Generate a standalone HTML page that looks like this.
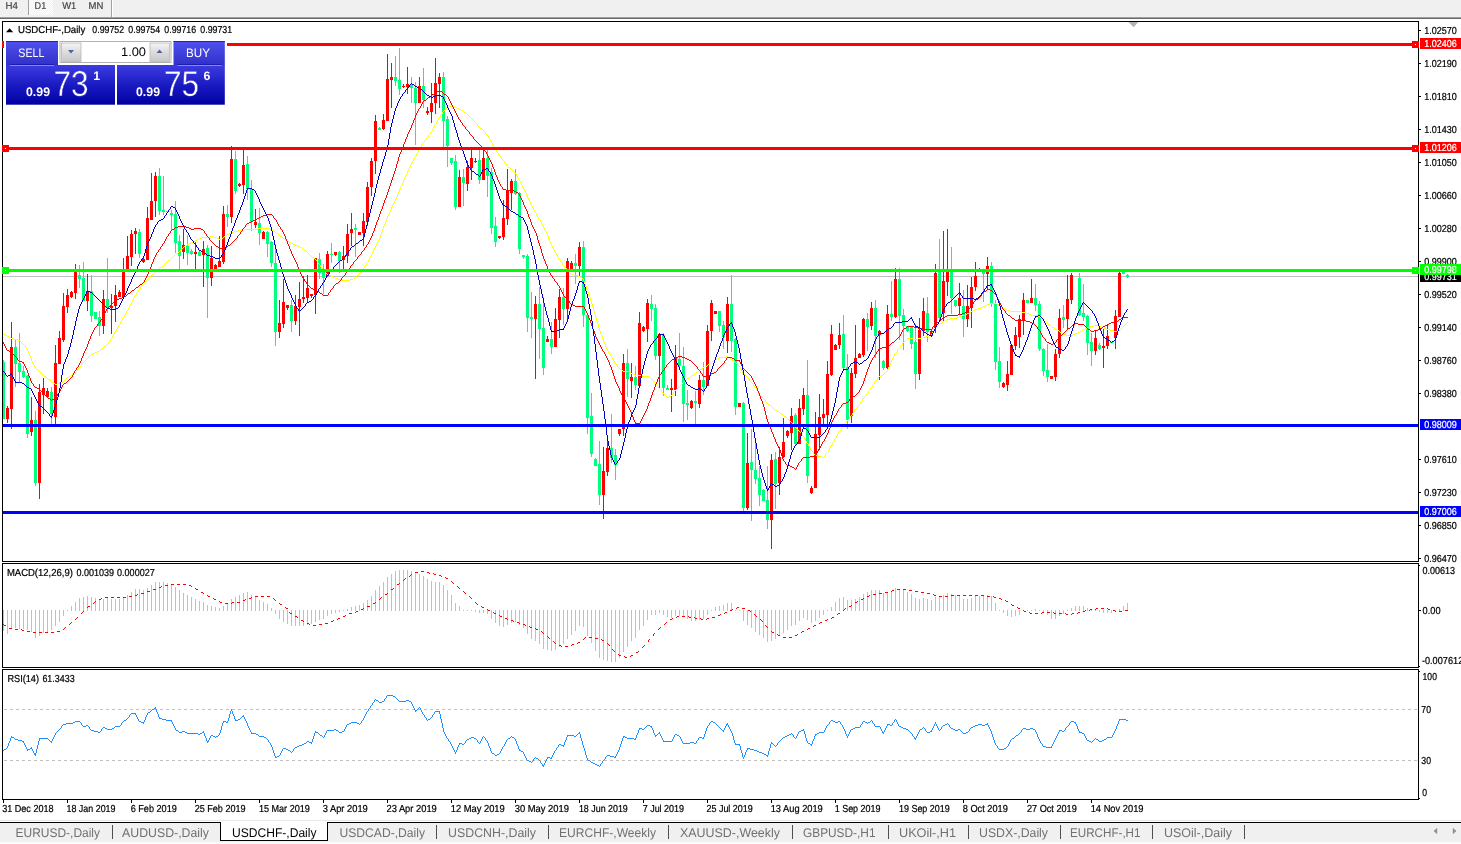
<!DOCTYPE html>
<html lang="en">
<head>
<meta charset="utf-8">
<title>USDCHF-,Daily</title>
<style>
html,body{margin:0;padding:0;background:#fff;overflow:hidden}
body{width:1461px;height:844px;font-family:"Liberation Sans",sans-serif}
svg{display:block;position:absolute;left:0;top:0}
text{white-space:pre;text-rendering:geometricPrecision}
</style>
</head>
<body>
<svg width="1461" height="844" viewBox="0 0 1461 844" font-family="'Liberation Sans', sans-serif">
<defs><linearGradient id="gbtn" x1="0" y1="0" x2="0" y2="1"><stop offset="0" stop-color="#5050f0"/><stop offset="1" stop-color="#3030c8"/></linearGradient><linearGradient id="gprice" x1="0" y1="0" x2="0" y2="1"><stop offset="0" stop-color="#3c3ce0"/><stop offset="0.55" stop-color="#1818c0"/><stop offset="1" stop-color="#0000a0"/></linearGradient><linearGradient id="gprice_u" gradientUnits="userSpaceOnUse" x1="0" y1="65" x2="0" y2="104.7"><stop offset="0" stop-color="#3c3ce0"/><stop offset="0.55" stop-color="#1818c0"/><stop offset="1" stop-color="#0000a0"/></linearGradient><linearGradient id="gspin" x1="0" y1="0" x2="0" y2="1"><stop offset="0" stop-color="#f4f4f4"/><stop offset="0.5" stop-color="#dcdcdc"/><stop offset="1" stop-color="#c8c8c8"/></linearGradient><pattern id="chk" width="2" height="2" patternUnits="userSpaceOnUse"><rect width="2" height="2" fill="#f0f0f0"/><rect width="1" height="1" fill="#ffffff"/><rect x="1" y="1" width="1" height="1" fill="#ffffff"/></pattern></defs>
<rect x="0" y="0" width="1461" height="844" fill="#ffffff"/>
<rect x="0" y="0" width="1461" height="17" fill="#f0f0f0"/>
<rect x="0" y="17" width="1461" height="1" fill="#a0a0a0"/>
<rect x="0" y="18" width="1461" height="1" fill="#696969"/>
<rect x="29" y="0" width="24" height="15" fill="url(#chk)"/>
<rect x="28" y="0" width="1" height="15" fill="#a0a0a0"/>
<rect x="111" y="0" width="1" height="17" fill="#a0a0a0"/>
<rect x="112" y="0" width="1" height="17" fill="#ffffff"/>
<text x="5.5" y="8.9" font-size="10" fill="#454545" textLength="12.4" lengthAdjust="spacingAndGlyphs" stroke="#454545" stroke-width="0.2">H4</text>
<text x="34.6" y="8.9" font-size="10" fill="#454545" textLength="11.6" lengthAdjust="spacingAndGlyphs" stroke="#454545" stroke-width="0.2">D1</text>
<text x="62.2" y="8.9" font-size="10" fill="#454545" textLength="14" lengthAdjust="spacingAndGlyphs" stroke="#454545" stroke-width="0.2">W1</text>
<text x="88.5" y="8.9" font-size="10" fill="#454545" textLength="14.8" lengthAdjust="spacingAndGlyphs" stroke="#454545" stroke-width="0.2">MN</text>
<g shape-rendering="crispEdges">
<rect x="3" y="276" width="1415" height="1" fill="#c0c0c0"/>
</g>
<g shape-rendering="crispEdges">
<rect x="3" y="360" width="1" height="59" fill="#00ff7f"/>
<rect x="2" y="362" width="3" height="57" fill="#00ff7f"/>
<rect x="7" y="406" width="1" height="17" fill="#ff0000"/>
<rect x="6" y="408" width="3" height="11" fill="#ff0000"/>
<rect x="11" y="322" width="1" height="107" fill="#ff0000"/>
<rect x="10" y="347" width="3" height="62" fill="#ff0000"/>
<rect x="15" y="340" width="1" height="47" fill="#00ff7f"/>
<rect x="14" y="347" width="3" height="17" fill="#00ff7f"/>
<rect x="19" y="333" width="1" height="49" fill="#00ff7f"/>
<rect x="18" y="363" width="3" height="9" fill="#00ff7f"/>
<rect x="23" y="366" width="1" height="12" fill="#00ff7f"/>
<rect x="22" y="371" width="3" height="6" fill="#00ff7f"/>
<rect x="27" y="375" width="1" height="63" fill="#00ff7f"/>
<rect x="26" y="376" width="3" height="58" fill="#00ff7f"/>
<rect x="31" y="397" width="1" height="39" fill="#ff0000"/>
<rect x="30" y="420" width="3" height="12" fill="#ff0000"/>
<rect x="35" y="411" width="1" height="75" fill="#00ff7f"/>
<rect x="34" y="420" width="3" height="63" fill="#00ff7f"/>
<rect x="39" y="384" width="1" height="115" fill="#ff0000"/>
<rect x="38" y="392" width="3" height="91" fill="#ff0000"/>
<rect x="43" y="378" width="1" height="36" fill="#ff0000"/>
<rect x="42" y="388" width="3" height="7" fill="#ff0000"/>
<rect x="47" y="388" width="1" height="10" fill="#ff0000"/>
<rect x="46" y="391" width="3" height="6" fill="#ff0000"/>
<rect x="51" y="387" width="1" height="37" fill="#00ff7f"/>
<rect x="50" y="392" width="3" height="22" fill="#00ff7f"/>
<rect x="55" y="345" width="1" height="79" fill="#ff0000"/>
<rect x="54" y="363" width="3" height="54" fill="#ff0000"/>
<rect x="59" y="331" width="1" height="33" fill="#ff0000"/>
<rect x="58" y="338" width="3" height="26" fill="#ff0000"/>
<rect x="63" y="293" width="1" height="49" fill="#ff0000"/>
<rect x="62" y="306" width="3" height="34" fill="#ff0000"/>
<rect x="67" y="289" width="1" height="24" fill="#ff0000"/>
<rect x="66" y="295" width="3" height="12" fill="#ff0000"/>
<rect x="71" y="291" width="1" height="7" fill="#ff0000"/>
<rect x="70" y="292" width="3" height="5" fill="#ff0000"/>
<rect x="75" y="264" width="1" height="35" fill="#ff0000"/>
<rect x="74" y="272" width="3" height="21" fill="#ff0000"/>
<rect x="79" y="265" width="1" height="23" fill="#00ff7f"/>
<rect x="78" y="275" width="3" height="4" fill="#00ff7f"/>
<rect x="83" y="262" width="1" height="39" fill="#00ff7f"/>
<rect x="82" y="278" width="3" height="23" fill="#00ff7f"/>
<rect x="87" y="274" width="1" height="37" fill="#ff0000"/>
<rect x="86" y="291" width="3" height="10" fill="#ff0000"/>
<rect x="91" y="275" width="1" height="47" fill="#00ff7f"/>
<rect x="90" y="291" width="3" height="25" fill="#00ff7f"/>
<rect x="95" y="312" width="1" height="7" fill="#00ff7f"/>
<rect x="94" y="312" width="3" height="7" fill="#00ff7f"/>
<rect x="99" y="311" width="1" height="25" fill="#00ff7f"/>
<rect x="98" y="317" width="3" height="9" fill="#00ff7f"/>
<rect x="103" y="290" width="1" height="44" fill="#ff0000"/>
<rect x="102" y="299" width="3" height="27" fill="#ff0000"/>
<rect x="107" y="258" width="1" height="55" fill="#00ff7f"/>
<rect x="106" y="299" width="3" height="9" fill="#00ff7f"/>
<rect x="111" y="294" width="1" height="40" fill="#ff0000"/>
<rect x="110" y="306" width="3" height="2" fill="#ff0000"/>
<rect x="115" y="285" width="1" height="37" fill="#ff0000"/>
<rect x="114" y="295" width="3" height="11" fill="#ff0000"/>
<rect x="119" y="290" width="1" height="7" fill="#ff0000"/>
<rect x="118" y="292" width="3" height="5" fill="#ff0000"/>
<rect x="123" y="258" width="1" height="39" fill="#ff0000"/>
<rect x="122" y="270" width="3" height="27" fill="#ff0000"/>
<rect x="127" y="236" width="1" height="36" fill="#ff0000"/>
<rect x="126" y="256" width="3" height="16" fill="#ff0000"/>
<rect x="131" y="230" width="1" height="36" fill="#ff0000"/>
<rect x="130" y="234" width="3" height="23" fill="#ff0000"/>
<rect x="135" y="228" width="1" height="26" fill="#ff0000"/>
<rect x="134" y="231" width="3" height="3" fill="#ff0000"/>
<rect x="139" y="229" width="1" height="29" fill="#00ff7f"/>
<rect x="138" y="232" width="3" height="22" fill="#00ff7f"/>
<rect x="143" y="257" width="1" height="6" fill="#ff0000"/>
<rect x="142" y="259" width="3" height="3" fill="#ff0000"/>
<rect x="147" y="207" width="1" height="53" fill="#ff0000"/>
<rect x="146" y="218" width="3" height="42" fill="#ff0000"/>
<rect x="151" y="173" width="1" height="47" fill="#ff0000"/>
<rect x="150" y="201" width="3" height="19" fill="#ff0000"/>
<rect x="155" y="172" width="1" height="45" fill="#ff0000"/>
<rect x="154" y="176" width="3" height="25" fill="#ff0000"/>
<rect x="159" y="168" width="1" height="47" fill="#00ff7f"/>
<rect x="158" y="176" width="3" height="35" fill="#00ff7f"/>
<rect x="163" y="176" width="1" height="39" fill="#00ff7f"/>
<rect x="162" y="210" width="3" height="2" fill="#00ff7f"/>
<rect x="167" y="211" width="1" height="1" fill="#00ff7f"/>
<rect x="166" y="211" width="3" height="1" fill="#00ff7f"/>
<rect x="171" y="210" width="1" height="20" fill="#00ff7f"/>
<rect x="170" y="213" width="3" height="2" fill="#00ff7f"/>
<rect x="175" y="201" width="1" height="52" fill="#00ff7f"/>
<rect x="174" y="214" width="3" height="29" fill="#00ff7f"/>
<rect x="179" y="235" width="1" height="34" fill="#00ff7f"/>
<rect x="178" y="241" width="3" height="15" fill="#00ff7f"/>
<rect x="183" y="229" width="1" height="30" fill="#ff0000"/>
<rect x="182" y="245" width="3" height="7" fill="#ff0000"/>
<rect x="187" y="235" width="1" height="30" fill="#00ff7f"/>
<rect x="186" y="246" width="3" height="7" fill="#00ff7f"/>
<rect x="191" y="249" width="1" height="6" fill="#00ff7f"/>
<rect x="190" y="251" width="3" height="3" fill="#00ff7f"/>
<rect x="195" y="242" width="1" height="28" fill="#ff0000"/>
<rect x="194" y="252" width="3" height="2" fill="#ff0000"/>
<rect x="199" y="251" width="1" height="5" fill="#00ff7f"/>
<rect x="198" y="252" width="3" height="4" fill="#00ff7f"/>
<rect x="203" y="241" width="1" height="46" fill="#ff0000"/>
<rect x="202" y="249" width="3" height="6" fill="#ff0000"/>
<rect x="207" y="245" width="1" height="73" fill="#00ff7f"/>
<rect x="206" y="248" width="3" height="30" fill="#00ff7f"/>
<rect x="211" y="246" width="1" height="40" fill="#ff0000"/>
<rect x="210" y="258" width="3" height="20" fill="#ff0000"/>
<rect x="215" y="264" width="1" height="5" fill="#ff0000"/>
<rect x="214" y="265" width="3" height="4" fill="#ff0000"/>
<rect x="219" y="236" width="1" height="31" fill="#ff0000"/>
<rect x="218" y="261" width="3" height="6" fill="#ff0000"/>
<rect x="223" y="206" width="1" height="58" fill="#ff0000"/>
<rect x="222" y="214" width="3" height="48" fill="#ff0000"/>
<rect x="227" y="205" width="1" height="22" fill="#00ff7f"/>
<rect x="226" y="214" width="3" height="3" fill="#00ff7f"/>
<rect x="231" y="146" width="1" height="77" fill="#ff0000"/>
<rect x="230" y="159" width="3" height="58" fill="#ff0000"/>
<rect x="235" y="151" width="1" height="43" fill="#00ff7f"/>
<rect x="234" y="159" width="3" height="32" fill="#00ff7f"/>
<rect x="239" y="183" width="1" height="4" fill="#ff0000"/>
<rect x="238" y="184" width="3" height="2" fill="#ff0000"/>
<rect x="243" y="149" width="1" height="45" fill="#ff0000"/>
<rect x="242" y="165" width="3" height="20" fill="#ff0000"/>
<rect x="247" y="156" width="1" height="44" fill="#00ff7f"/>
<rect x="246" y="164" width="3" height="25" fill="#00ff7f"/>
<rect x="251" y="180" width="1" height="51" fill="#00ff7f"/>
<rect x="250" y="189" width="3" height="33" fill="#00ff7f"/>
<rect x="255" y="209" width="1" height="19" fill="#ff0000"/>
<rect x="254" y="222" width="3" height="3" fill="#ff0000"/>
<rect x="259" y="208" width="1" height="37" fill="#00ff7f"/>
<rect x="258" y="223" width="3" height="10" fill="#00ff7f"/>
<rect x="263" y="231" width="1" height="8" fill="#ff0000"/>
<rect x="262" y="232" width="3" height="7" fill="#ff0000"/>
<rect x="267" y="231" width="1" height="26" fill="#00ff7f"/>
<rect x="266" y="232" width="3" height="12" fill="#00ff7f"/>
<rect x="271" y="241" width="1" height="26" fill="#00ff7f"/>
<rect x="270" y="242" width="3" height="21" fill="#00ff7f"/>
<rect x="275" y="244" width="1" height="102" fill="#00ff7f"/>
<rect x="274" y="263" width="3" height="69" fill="#00ff7f"/>
<rect x="279" y="300" width="1" height="38" fill="#ff0000"/>
<rect x="278" y="323" width="3" height="9" fill="#ff0000"/>
<rect x="283" y="279" width="1" height="49" fill="#ff0000"/>
<rect x="282" y="302" width="3" height="22" fill="#ff0000"/>
<rect x="287" y="305" width="1" height="5" fill="#ff0000"/>
<rect x="286" y="305" width="3" height="3" fill="#ff0000"/>
<rect x="291" y="300" width="1" height="32" fill="#00ff7f"/>
<rect x="290" y="305" width="3" height="16" fill="#00ff7f"/>
<rect x="295" y="295" width="1" height="30" fill="#ff0000"/>
<rect x="294" y="306" width="3" height="15" fill="#ff0000"/>
<rect x="299" y="282" width="1" height="54" fill="#ff0000"/>
<rect x="298" y="299" width="3" height="8" fill="#ff0000"/>
<rect x="303" y="276" width="1" height="27" fill="#ff0000"/>
<rect x="302" y="297" width="3" height="2" fill="#ff0000"/>
<rect x="307" y="275" width="1" height="27" fill="#ff0000"/>
<rect x="306" y="288" width="3" height="10" fill="#ff0000"/>
<rect x="311" y="294" width="1" height="4" fill="#ff0000"/>
<rect x="310" y="294" width="3" height="2" fill="#ff0000"/>
<rect x="315" y="258" width="1" height="56" fill="#ff0000"/>
<rect x="314" y="258" width="3" height="37" fill="#ff0000"/>
<rect x="319" y="253" width="1" height="26" fill="#00ff7f"/>
<rect x="318" y="259" width="3" height="14" fill="#00ff7f"/>
<rect x="323" y="264" width="1" height="30" fill="#00ff7f"/>
<rect x="322" y="272" width="3" height="6" fill="#00ff7f"/>
<rect x="327" y="251" width="1" height="26" fill="#ff0000"/>
<rect x="326" y="254" width="3" height="22" fill="#ff0000"/>
<rect x="331" y="243" width="1" height="20" fill="#00ff7f"/>
<rect x="330" y="254" width="3" height="1" fill="#00ff7f"/>
<rect x="335" y="252" width="1" height="4" fill="#ff0000"/>
<rect x="334" y="252" width="3" height="3" fill="#ff0000"/>
<rect x="339" y="251" width="1" height="22" fill="#00ff7f"/>
<rect x="338" y="252" width="3" height="9" fill="#00ff7f"/>
<rect x="343" y="246" width="1" height="23" fill="#ff0000"/>
<rect x="342" y="256" width="3" height="4" fill="#ff0000"/>
<rect x="347" y="224" width="1" height="39" fill="#ff0000"/>
<rect x="346" y="234" width="3" height="22" fill="#ff0000"/>
<rect x="351" y="213" width="1" height="33" fill="#ff0000"/>
<rect x="350" y="229" width="3" height="4" fill="#ff0000"/>
<rect x="355" y="224" width="1" height="33" fill="#00ff7f"/>
<rect x="354" y="228" width="3" height="2" fill="#00ff7f"/>
<rect x="359" y="232" width="1" height="3" fill="#ff0000"/>
<rect x="358" y="232" width="3" height="3" fill="#ff0000"/>
<rect x="363" y="213" width="1" height="33" fill="#ff0000"/>
<rect x="362" y="221" width="3" height="12" fill="#ff0000"/>
<rect x="367" y="182" width="1" height="44" fill="#ff0000"/>
<rect x="366" y="187" width="3" height="35" fill="#ff0000"/>
<rect x="371" y="158" width="1" height="38" fill="#ff0000"/>
<rect x="370" y="161" width="3" height="26" fill="#ff0000"/>
<rect x="375" y="115" width="1" height="59" fill="#ff0000"/>
<rect x="374" y="121" width="3" height="40" fill="#ff0000"/>
<rect x="379" y="127" width="1" height="3" fill="#00ff7f"/>
<rect x="378" y="128" width="3" height="2" fill="#00ff7f"/>
<rect x="383" y="114" width="1" height="16" fill="#ff0000"/>
<rect x="382" y="120" width="3" height="9" fill="#ff0000"/>
<rect x="387" y="54" width="1" height="67" fill="#ff0000"/>
<rect x="386" y="79" width="3" height="42" fill="#ff0000"/>
<rect x="391" y="63" width="1" height="45" fill="#ff0000"/>
<rect x="390" y="77" width="3" height="3" fill="#ff0000"/>
<rect x="395" y="56" width="1" height="30" fill="#00ff7f"/>
<rect x="394" y="77" width="3" height="4" fill="#00ff7f"/>
<rect x="399" y="48" width="1" height="47" fill="#00ff7f"/>
<rect x="398" y="80" width="3" height="9" fill="#00ff7f"/>
<rect x="403" y="84" width="1" height="4" fill="#ff0000"/>
<rect x="402" y="86" width="3" height="1" fill="#ff0000"/>
<rect x="407" y="67" width="1" height="27" fill="#ff0000"/>
<rect x="406" y="84" width="3" height="3" fill="#ff0000"/>
<rect x="411" y="77" width="1" height="26" fill="#00ff7f"/>
<rect x="410" y="84" width="3" height="4" fill="#00ff7f"/>
<rect x="415" y="82" width="1" height="63" fill="#00ff7f"/>
<rect x="414" y="88" width="3" height="15" fill="#00ff7f"/>
<rect x="419" y="77" width="1" height="26" fill="#ff0000"/>
<rect x="418" y="86" width="3" height="17" fill="#ff0000"/>
<rect x="423" y="68" width="1" height="40" fill="#00ff7f"/>
<rect x="422" y="86" width="3" height="14" fill="#00ff7f"/>
<rect x="427" y="107" width="1" height="8" fill="#ff0000"/>
<rect x="426" y="111" width="3" height="2" fill="#ff0000"/>
<rect x="431" y="83" width="1" height="40" fill="#ff0000"/>
<rect x="430" y="103" width="3" height="9" fill="#ff0000"/>
<rect x="435" y="58" width="1" height="56" fill="#ff0000"/>
<rect x="434" y="83" width="3" height="20" fill="#ff0000"/>
<rect x="439" y="73" width="1" height="35" fill="#ff0000"/>
<rect x="438" y="77" width="3" height="7" fill="#ff0000"/>
<rect x="443" y="72" width="1" height="75" fill="#00ff7f"/>
<rect x="442" y="77" width="3" height="44" fill="#00ff7f"/>
<rect x="447" y="116" width="1" height="51" fill="#00ff7f"/>
<rect x="446" y="119" width="3" height="27" fill="#00ff7f"/>
<rect x="451" y="158" width="1" height="7" fill="#00ff7f"/>
<rect x="450" y="158" width="3" height="5" fill="#00ff7f"/>
<rect x="455" y="155" width="1" height="55" fill="#00ff7f"/>
<rect x="454" y="161" width="3" height="46" fill="#00ff7f"/>
<rect x="459" y="170" width="1" height="37" fill="#ff0000"/>
<rect x="458" y="177" width="3" height="30" fill="#ff0000"/>
<rect x="463" y="169" width="1" height="37" fill="#00ff7f"/>
<rect x="462" y="177" width="3" height="6" fill="#00ff7f"/>
<rect x="467" y="161" width="1" height="30" fill="#ff0000"/>
<rect x="466" y="167" width="3" height="17" fill="#ff0000"/>
<rect x="471" y="150" width="1" height="30" fill="#ff0000"/>
<rect x="470" y="158" width="3" height="10" fill="#ff0000"/>
<rect x="475" y="158" width="1" height="5" fill="#ff0000"/>
<rect x="474" y="161" width="3" height="1" fill="#ff0000"/>
<rect x="479" y="150" width="1" height="34" fill="#00ff7f"/>
<rect x="478" y="160" width="3" height="20" fill="#00ff7f"/>
<rect x="483" y="150" width="1" height="30" fill="#ff0000"/>
<rect x="482" y="158" width="3" height="22" fill="#ff0000"/>
<rect x="487" y="150" width="1" height="47" fill="#00ff7f"/>
<rect x="486" y="158" width="3" height="18" fill="#00ff7f"/>
<rect x="491" y="168" width="1" height="66" fill="#00ff7f"/>
<rect x="490" y="172" width="3" height="56" fill="#00ff7f"/>
<rect x="495" y="217" width="1" height="30" fill="#00ff7f"/>
<rect x="494" y="226" width="3" height="16" fill="#00ff7f"/>
<rect x="499" y="236" width="1" height="3" fill="#ff0000"/>
<rect x="498" y="236" width="3" height="2" fill="#ff0000"/>
<rect x="503" y="200" width="1" height="40" fill="#ff0000"/>
<rect x="502" y="218" width="3" height="19" fill="#ff0000"/>
<rect x="507" y="169" width="1" height="56" fill="#ff0000"/>
<rect x="506" y="191" width="3" height="28" fill="#ff0000"/>
<rect x="511" y="179" width="1" height="31" fill="#ff0000"/>
<rect x="510" y="181" width="3" height="12" fill="#ff0000"/>
<rect x="515" y="169" width="1" height="26" fill="#00ff7f"/>
<rect x="514" y="181" width="3" height="13" fill="#00ff7f"/>
<rect x="519" y="192" width="1" height="62" fill="#00ff7f"/>
<rect x="518" y="193" width="3" height="56" fill="#00ff7f"/>
<rect x="523" y="255" width="1" height="4" fill="#00ff7f"/>
<rect x="522" y="255" width="3" height="2" fill="#00ff7f"/>
<rect x="527" y="254" width="1" height="78" fill="#00ff7f"/>
<rect x="526" y="256" width="3" height="62" fill="#00ff7f"/>
<rect x="531" y="292" width="1" height="46" fill="#00ff7f"/>
<rect x="530" y="317" width="3" height="2" fill="#00ff7f"/>
<rect x="535" y="296" width="1" height="83" fill="#ff0000"/>
<rect x="534" y="304" width="3" height="15" fill="#ff0000"/>
<rect x="539" y="287" width="1" height="72" fill="#00ff7f"/>
<rect x="538" y="304" width="3" height="25" fill="#00ff7f"/>
<rect x="543" y="297" width="1" height="78" fill="#00ff7f"/>
<rect x="542" y="328" width="3" height="40" fill="#00ff7f"/>
<rect x="547" y="336" width="1" height="6" fill="#ff0000"/>
<rect x="546" y="339" width="3" height="3" fill="#ff0000"/>
<rect x="551" y="322" width="1" height="32" fill="#00ff7f"/>
<rect x="550" y="339" width="3" height="8" fill="#00ff7f"/>
<rect x="555" y="308" width="1" height="39" fill="#ff0000"/>
<rect x="554" y="319" width="3" height="28" fill="#ff0000"/>
<rect x="559" y="289" width="1" height="49" fill="#ff0000"/>
<rect x="558" y="297" width="3" height="23" fill="#ff0000"/>
<rect x="563" y="288" width="1" height="37" fill="#00ff7f"/>
<rect x="562" y="297" width="3" height="12" fill="#00ff7f"/>
<rect x="567" y="258" width="1" height="62" fill="#ff0000"/>
<rect x="566" y="261" width="3" height="48" fill="#ff0000"/>
<rect x="571" y="261" width="1" height="9" fill="#ff0000"/>
<rect x="570" y="263" width="3" height="6" fill="#ff0000"/>
<rect x="575" y="254" width="1" height="30" fill="#00ff7f"/>
<rect x="574" y="263" width="3" height="3" fill="#00ff7f"/>
<rect x="579" y="242" width="1" height="34" fill="#ff0000"/>
<rect x="578" y="247" width="3" height="19" fill="#ff0000"/>
<rect x="583" y="241" width="1" height="86" fill="#00ff7f"/>
<rect x="582" y="247" width="3" height="68" fill="#00ff7f"/>
<rect x="587" y="315" width="1" height="119" fill="#00ff7f"/>
<rect x="586" y="315" width="3" height="103" fill="#00ff7f"/>
<rect x="591" y="393" width="1" height="64" fill="#00ff7f"/>
<rect x="590" y="416" width="3" height="38" fill="#00ff7f"/>
<rect x="595" y="458" width="1" height="8" fill="#00ff7f"/>
<rect x="594" y="459" width="3" height="7" fill="#00ff7f"/>
<rect x="599" y="441" width="1" height="64" fill="#00ff7f"/>
<rect x="598" y="464" width="3" height="31" fill="#00ff7f"/>
<rect x="603" y="447" width="1" height="72" fill="#ff0000"/>
<rect x="602" y="471" width="3" height="24" fill="#ff0000"/>
<rect x="607" y="440" width="1" height="36" fill="#ff0000"/>
<rect x="606" y="448" width="3" height="24" fill="#ff0000"/>
<rect x="611" y="414" width="1" height="49" fill="#00ff7f"/>
<rect x="610" y="448" width="3" height="10" fill="#00ff7f"/>
<rect x="615" y="449" width="1" height="31" fill="#00ff7f"/>
<rect x="614" y="455" width="3" height="10" fill="#00ff7f"/>
<rect x="619" y="429" width="1" height="7" fill="#ff0000"/>
<rect x="618" y="429" width="3" height="5" fill="#ff0000"/>
<rect x="623" y="354" width="1" height="82" fill="#ff0000"/>
<rect x="622" y="363" width="3" height="66" fill="#ff0000"/>
<rect x="627" y="349" width="1" height="48" fill="#00ff7f"/>
<rect x="626" y="363" width="3" height="16" fill="#00ff7f"/>
<rect x="631" y="363" width="1" height="35" fill="#ff0000"/>
<rect x="630" y="377" width="3" height="4" fill="#ff0000"/>
<rect x="635" y="366" width="1" height="24" fill="#00ff7f"/>
<rect x="634" y="377" width="3" height="8" fill="#00ff7f"/>
<rect x="639" y="312" width="1" height="74" fill="#ff0000"/>
<rect x="638" y="323" width="3" height="63" fill="#ff0000"/>
<rect x="643" y="326" width="1" height="6" fill="#ff0000"/>
<rect x="642" y="327" width="3" height="4" fill="#ff0000"/>
<rect x="647" y="299" width="1" height="43" fill="#ff0000"/>
<rect x="646" y="303" width="3" height="26" fill="#ff0000"/>
<rect x="651" y="295" width="1" height="26" fill="#00ff7f"/>
<rect x="650" y="304" width="3" height="5" fill="#00ff7f"/>
<rect x="655" y="304" width="1" height="56" fill="#00ff7f"/>
<rect x="654" y="308" width="3" height="48" fill="#00ff7f"/>
<rect x="659" y="333" width="1" height="55" fill="#ff0000"/>
<rect x="658" y="334" width="3" height="22" fill="#ff0000"/>
<rect x="663" y="333" width="1" height="63" fill="#00ff7f"/>
<rect x="662" y="335" width="3" height="53" fill="#00ff7f"/>
<rect x="667" y="385" width="1" height="5" fill="#00ff7f"/>
<rect x="666" y="388" width="3" height="2" fill="#00ff7f"/>
<rect x="671" y="379" width="1" height="33" fill="#ff0000"/>
<rect x="670" y="388" width="3" height="2" fill="#ff0000"/>
<rect x="675" y="345" width="1" height="51" fill="#ff0000"/>
<rect x="674" y="357" width="3" height="33" fill="#ff0000"/>
<rect x="679" y="333" width="1" height="35" fill="#00ff7f"/>
<rect x="678" y="359" width="3" height="7" fill="#00ff7f"/>
<rect x="683" y="347" width="1" height="75" fill="#00ff7f"/>
<rect x="682" y="366" width="3" height="38" fill="#00ff7f"/>
<rect x="687" y="390" width="1" height="30" fill="#00ff7f"/>
<rect x="686" y="403" width="3" height="2" fill="#00ff7f"/>
<rect x="691" y="400" width="1" height="9" fill="#ff0000"/>
<rect x="690" y="401" width="3" height="7" fill="#ff0000"/>
<rect x="695" y="391" width="1" height="33" fill="#00ff7f"/>
<rect x="694" y="401" width="3" height="2" fill="#00ff7f"/>
<rect x="699" y="375" width="1" height="33" fill="#ff0000"/>
<rect x="698" y="380" width="3" height="24" fill="#ff0000"/>
<rect x="703" y="362" width="1" height="33" fill="#00ff7f"/>
<rect x="702" y="380" width="3" height="7" fill="#00ff7f"/>
<rect x="707" y="325" width="1" height="61" fill="#ff0000"/>
<rect x="706" y="331" width="3" height="55" fill="#ff0000"/>
<rect x="711" y="300" width="1" height="41" fill="#ff0000"/>
<rect x="710" y="303" width="3" height="28" fill="#ff0000"/>
<rect x="715" y="311" width="1" height="3" fill="#ff0000"/>
<rect x="714" y="311" width="3" height="3" fill="#ff0000"/>
<rect x="719" y="311" width="1" height="21" fill="#00ff7f"/>
<rect x="718" y="311" width="3" height="15" fill="#00ff7f"/>
<rect x="723" y="321" width="1" height="28" fill="#00ff7f"/>
<rect x="722" y="325" width="3" height="12" fill="#00ff7f"/>
<rect x="727" y="297" width="1" height="56" fill="#ff0000"/>
<rect x="726" y="304" width="3" height="37" fill="#ff0000"/>
<rect x="731" y="275" width="1" height="77" fill="#00ff7f"/>
<rect x="730" y="304" width="3" height="37" fill="#00ff7f"/>
<rect x="735" y="338" width="1" height="77" fill="#00ff7f"/>
<rect x="734" y="339" width="3" height="68" fill="#00ff7f"/>
<rect x="739" y="403" width="1" height="4" fill="#ff0000"/>
<rect x="738" y="403" width="3" height="4" fill="#ff0000"/>
<rect x="743" y="402" width="1" height="109" fill="#00ff7f"/>
<rect x="742" y="403" width="3" height="105" fill="#00ff7f"/>
<rect x="747" y="433" width="1" height="77" fill="#ff0000"/>
<rect x="746" y="463" width="3" height="45" fill="#ff0000"/>
<rect x="751" y="429" width="1" height="92" fill="#00ff7f"/>
<rect x="750" y="462" width="3" height="8" fill="#00ff7f"/>
<rect x="755" y="441" width="1" height="43" fill="#00ff7f"/>
<rect x="754" y="470" width="3" height="9" fill="#00ff7f"/>
<rect x="759" y="466" width="1" height="40" fill="#00ff7f"/>
<rect x="758" y="478" width="3" height="17" fill="#00ff7f"/>
<rect x="763" y="489" width="1" height="12" fill="#00ff7f"/>
<rect x="762" y="490" width="3" height="11" fill="#00ff7f"/>
<rect x="767" y="466" width="1" height="63" fill="#00ff7f"/>
<rect x="766" y="500" width="3" height="20" fill="#00ff7f"/>
<rect x="771" y="454" width="1" height="95" fill="#ff0000"/>
<rect x="770" y="460" width="3" height="60" fill="#ff0000"/>
<rect x="775" y="452" width="1" height="57" fill="#00ff7f"/>
<rect x="774" y="459" width="3" height="25" fill="#00ff7f"/>
<rect x="779" y="447" width="1" height="48" fill="#ff0000"/>
<rect x="778" y="457" width="3" height="26" fill="#ff0000"/>
<rect x="783" y="418" width="1" height="40" fill="#ff0000"/>
<rect x="782" y="442" width="3" height="15" fill="#ff0000"/>
<rect x="787" y="430" width="1" height="8" fill="#ff0000"/>
<rect x="786" y="431" width="3" height="5" fill="#ff0000"/>
<rect x="791" y="408" width="1" height="42" fill="#ff0000"/>
<rect x="790" y="416" width="3" height="17" fill="#ff0000"/>
<rect x="795" y="413" width="1" height="32" fill="#00ff7f"/>
<rect x="794" y="415" width="3" height="29" fill="#00ff7f"/>
<rect x="799" y="399" width="1" height="45" fill="#ff0000"/>
<rect x="798" y="408" width="3" height="36" fill="#ff0000"/>
<rect x="803" y="388" width="1" height="27" fill="#ff0000"/>
<rect x="802" y="395" width="3" height="14" fill="#ff0000"/>
<rect x="807" y="360" width="1" height="123" fill="#00ff7f"/>
<rect x="806" y="395" width="3" height="81" fill="#00ff7f"/>
<rect x="811" y="486" width="1" height="8" fill="#ff0000"/>
<rect x="810" y="488" width="3" height="5" fill="#ff0000"/>
<rect x="815" y="412" width="1" height="76" fill="#ff0000"/>
<rect x="814" y="434" width="3" height="54" fill="#ff0000"/>
<rect x="819" y="394" width="1" height="56" fill="#ff0000"/>
<rect x="818" y="417" width="3" height="18" fill="#ff0000"/>
<rect x="823" y="399" width="1" height="25" fill="#ff0000"/>
<rect x="822" y="414" width="3" height="4" fill="#ff0000"/>
<rect x="827" y="361" width="1" height="63" fill="#ff0000"/>
<rect x="826" y="374" width="3" height="41" fill="#ff0000"/>
<rect x="831" y="325" width="1" height="51" fill="#ff0000"/>
<rect x="830" y="334" width="3" height="41" fill="#ff0000"/>
<rect x="835" y="344" width="1" height="6" fill="#ff0000"/>
<rect x="834" y="345" width="3" height="5" fill="#ff0000"/>
<rect x="839" y="323" width="1" height="26" fill="#ff0000"/>
<rect x="838" y="335" width="3" height="10" fill="#ff0000"/>
<rect x="843" y="315" width="1" height="56" fill="#00ff7f"/>
<rect x="842" y="334" width="3" height="34" fill="#00ff7f"/>
<rect x="847" y="354" width="1" height="75" fill="#00ff7f"/>
<rect x="846" y="367" width="3" height="53" fill="#00ff7f"/>
<rect x="851" y="368" width="1" height="55" fill="#ff0000"/>
<rect x="850" y="373" width="3" height="43" fill="#ff0000"/>
<rect x="855" y="325" width="1" height="53" fill="#ff0000"/>
<rect x="854" y="358" width="3" height="16" fill="#ff0000"/>
<rect x="859" y="353" width="1" height="5" fill="#ff0000"/>
<rect x="858" y="354" width="3" height="4" fill="#ff0000"/>
<rect x="863" y="318" width="1" height="39" fill="#ff0000"/>
<rect x="862" y="319" width="3" height="36" fill="#ff0000"/>
<rect x="867" y="313" width="1" height="38" fill="#00ff7f"/>
<rect x="866" y="319" width="3" height="8" fill="#00ff7f"/>
<rect x="871" y="302" width="1" height="28" fill="#ff0000"/>
<rect x="870" y="308" width="3" height="18" fill="#ff0000"/>
<rect x="875" y="300" width="1" height="58" fill="#00ff7f"/>
<rect x="874" y="308" width="3" height="28" fill="#00ff7f"/>
<rect x="879" y="330" width="1" height="50" fill="#ff0000"/>
<rect x="878" y="331" width="3" height="4" fill="#ff0000"/>
<rect x="883" y="360" width="1" height="10" fill="#00ff7f"/>
<rect x="882" y="361" width="3" height="7" fill="#00ff7f"/>
<rect x="887" y="305" width="1" height="65" fill="#ff0000"/>
<rect x="886" y="314" width="3" height="54" fill="#ff0000"/>
<rect x="891" y="281" width="1" height="40" fill="#00ff7f"/>
<rect x="890" y="314" width="3" height="3" fill="#00ff7f"/>
<rect x="895" y="268" width="1" height="50" fill="#ff0000"/>
<rect x="894" y="279" width="3" height="38" fill="#ff0000"/>
<rect x="899" y="268" width="1" height="72" fill="#00ff7f"/>
<rect x="898" y="279" width="3" height="37" fill="#00ff7f"/>
<rect x="903" y="309" width="1" height="41" fill="#00ff7f"/>
<rect x="902" y="315" width="3" height="11" fill="#00ff7f"/>
<rect x="907" y="326" width="1" height="6" fill="#00ff7f"/>
<rect x="906" y="326" width="3" height="5" fill="#00ff7f"/>
<rect x="911" y="326" width="1" height="23" fill="#00ff7f"/>
<rect x="910" y="327" width="3" height="17" fill="#00ff7f"/>
<rect x="915" y="324" width="1" height="65" fill="#00ff7f"/>
<rect x="914" y="342" width="3" height="32" fill="#00ff7f"/>
<rect x="919" y="318" width="1" height="62" fill="#ff0000"/>
<rect x="918" y="330" width="3" height="44" fill="#ff0000"/>
<rect x="923" y="298" width="1" height="38" fill="#ff0000"/>
<rect x="922" y="311" width="3" height="20" fill="#ff0000"/>
<rect x="927" y="297" width="1" height="45" fill="#00ff7f"/>
<rect x="926" y="313" width="3" height="19" fill="#00ff7f"/>
<rect x="931" y="330" width="1" height="7" fill="#ff0000"/>
<rect x="930" y="331" width="3" height="5" fill="#ff0000"/>
<rect x="935" y="264" width="1" height="69" fill="#ff0000"/>
<rect x="934" y="273" width="3" height="55" fill="#ff0000"/>
<rect x="939" y="239" width="1" height="82" fill="#00ff7f"/>
<rect x="938" y="272" width="3" height="46" fill="#00ff7f"/>
<rect x="943" y="231" width="1" height="90" fill="#ff0000"/>
<rect x="942" y="281" width="3" height="32" fill="#ff0000"/>
<rect x="947" y="229" width="1" height="67" fill="#ff0000"/>
<rect x="946" y="272" width="3" height="10" fill="#ff0000"/>
<rect x="951" y="247" width="1" height="67" fill="#00ff7f"/>
<rect x="950" y="272" width="3" height="26" fill="#00ff7f"/>
<rect x="955" y="300" width="1" height="7" fill="#00ff7f"/>
<rect x="954" y="300" width="3" height="6" fill="#00ff7f"/>
<rect x="959" y="283" width="1" height="31" fill="#ff0000"/>
<rect x="958" y="298" width="3" height="8" fill="#ff0000"/>
<rect x="963" y="290" width="1" height="47" fill="#00ff7f"/>
<rect x="962" y="306" width="3" height="13" fill="#00ff7f"/>
<rect x="967" y="285" width="1" height="42" fill="#ff0000"/>
<rect x="966" y="306" width="3" height="13" fill="#ff0000"/>
<rect x="971" y="277" width="1" height="51" fill="#ff0000"/>
<rect x="970" y="287" width="3" height="21" fill="#ff0000"/>
<rect x="975" y="262" width="1" height="29" fill="#ff0000"/>
<rect x="974" y="276" width="3" height="11" fill="#ff0000"/>
<rect x="979" y="268" width="1" height="2" fill="#ff0000"/>
<rect x="978" y="269" width="3" height="1" fill="#ff0000"/>
<rect x="983" y="272" width="1" height="30" fill="#00ff7f"/>
<rect x="982" y="272" width="3" height="2" fill="#00ff7f"/>
<rect x="987" y="257" width="1" height="32" fill="#ff0000"/>
<rect x="986" y="266" width="3" height="8" fill="#ff0000"/>
<rect x="991" y="262" width="1" height="45" fill="#00ff7f"/>
<rect x="990" y="266" width="3" height="37" fill="#00ff7f"/>
<rect x="995" y="300" width="1" height="70" fill="#00ff7f"/>
<rect x="994" y="303" width="3" height="59" fill="#00ff7f"/>
<rect x="999" y="347" width="1" height="41" fill="#00ff7f"/>
<rect x="998" y="361" width="3" height="21" fill="#00ff7f"/>
<rect x="1003" y="382" width="1" height="6" fill="#ff0000"/>
<rect x="1002" y="383" width="3" height="4" fill="#ff0000"/>
<rect x="1007" y="361" width="1" height="30" fill="#ff0000"/>
<rect x="1006" y="374" width="3" height="11" fill="#ff0000"/>
<rect x="1011" y="344" width="1" height="31" fill="#ff0000"/>
<rect x="1010" y="345" width="3" height="30" fill="#ff0000"/>
<rect x="1015" y="327" width="1" height="23" fill="#ff0000"/>
<rect x="1014" y="335" width="3" height="11" fill="#ff0000"/>
<rect x="1019" y="315" width="1" height="33" fill="#ff0000"/>
<rect x="1018" y="319" width="3" height="18" fill="#ff0000"/>
<rect x="1023" y="293" width="1" height="42" fill="#ff0000"/>
<rect x="1022" y="300" width="3" height="21" fill="#ff0000"/>
<rect x="1027" y="300" width="1" height="3" fill="#00ff7f"/>
<rect x="1026" y="300" width="3" height="3" fill="#00ff7f"/>
<rect x="1031" y="279" width="1" height="24" fill="#ff0000"/>
<rect x="1030" y="298" width="3" height="5" fill="#ff0000"/>
<rect x="1035" y="284" width="1" height="27" fill="#00ff7f"/>
<rect x="1034" y="298" width="3" height="7" fill="#00ff7f"/>
<rect x="1039" y="301" width="1" height="50" fill="#00ff7f"/>
<rect x="1038" y="304" width="3" height="45" fill="#00ff7f"/>
<rect x="1043" y="348" width="1" height="28" fill="#00ff7f"/>
<rect x="1042" y="349" width="3" height="22" fill="#00ff7f"/>
<rect x="1047" y="344" width="1" height="38" fill="#00ff7f"/>
<rect x="1046" y="370" width="3" height="7" fill="#00ff7f"/>
<rect x="1051" y="376" width="1" height="3" fill="#ff0000"/>
<rect x="1050" y="376" width="3" height="3" fill="#ff0000"/>
<rect x="1055" y="349" width="1" height="32" fill="#ff0000"/>
<rect x="1054" y="354" width="3" height="23" fill="#ff0000"/>
<rect x="1059" y="309" width="1" height="49" fill="#ff0000"/>
<rect x="1058" y="318" width="3" height="36" fill="#ff0000"/>
<rect x="1063" y="305" width="1" height="23" fill="#00ff7f"/>
<rect x="1062" y="317" width="3" height="3" fill="#00ff7f"/>
<rect x="1067" y="275" width="1" height="55" fill="#ff0000"/>
<rect x="1066" y="299" width="3" height="20" fill="#ff0000"/>
<rect x="1071" y="273" width="1" height="31" fill="#ff0000"/>
<rect x="1070" y="275" width="3" height="25" fill="#ff0000"/>
<rect x="1079" y="273" width="1" height="43" fill="#00ff7f"/>
<rect x="1078" y="278" width="3" height="37" fill="#00ff7f"/>
<rect x="1083" y="284" width="1" height="37" fill="#00ff7f"/>
<rect x="1082" y="313" width="3" height="4" fill="#00ff7f"/>
<rect x="1087" y="315" width="1" height="40" fill="#00ff7f"/>
<rect x="1086" y="316" width="3" height="27" fill="#00ff7f"/>
<rect x="1091" y="333" width="1" height="33" fill="#00ff7f"/>
<rect x="1090" y="342" width="3" height="9" fill="#00ff7f"/>
<rect x="1095" y="331" width="1" height="24" fill="#ff0000"/>
<rect x="1094" y="338" width="3" height="13" fill="#ff0000"/>
<rect x="1099" y="343" width="1" height="7" fill="#00ff7f"/>
<rect x="1098" y="345" width="3" height="4" fill="#00ff7f"/>
<rect x="1103" y="328" width="1" height="40" fill="#ff0000"/>
<rect x="1102" y="346" width="3" height="2" fill="#ff0000"/>
<rect x="1107" y="325" width="1" height="24" fill="#ff0000"/>
<rect x="1106" y="336" width="3" height="10" fill="#ff0000"/>
<rect x="1111" y="342" width="1" height="1" fill="#00ff7f"/>
<rect x="1110" y="342" width="3" height="1" fill="#00ff7f"/>
<rect x="1115" y="310" width="1" height="39" fill="#ff0000"/>
<rect x="1114" y="316" width="3" height="22" fill="#ff0000"/>
<rect x="1119" y="272" width="1" height="45" fill="#ff0000"/>
<rect x="1118" y="273" width="3" height="44" fill="#ff0000"/>
<rect x="1123" y="272" width="1" height="2" fill="#00ff7f"/>
<rect x="1122" y="272" width="3" height="2" fill="#00ff7f"/>
<rect x="1127" y="274" width="1" height="4" fill="#00ff7f"/>
<rect x="1126" y="275" width="3" height="2" fill="#00ff7f"/>
</g>
<path d="M3.5 334v1M4.5 334v1M5.5 335v1M6.5 335v1M7.5 336v1M8.5 336v1M9.5 337v1M10.5 337v1M11.5 338v1M12.5 338v1M13.5 338v1M14.5 339v1M15.5 339v1M16.5 339v1M17.5 339v1M18.5 340v1M19.5 340v1M20.5 341v1M21.5 342v1M22.5 343v1M23.5 344v1M24.5 345v1M25.5 346v2M26.5 348v1M27.5 349v2M28.5 351v2M29.5 353v3M30.5 356v2M31.5 358v3M32.5 361v2M33.5 363v2M34.5 365v2M35.5 367v2M36.5 369v1M37.5 369v1M38.5 370v1M39.5 371v1M40.5 372v1M41.5 373v1M42.5 374v1M43.5 375v1M44.5 376v1M45.5 376v1M46.5 377v1M47.5 378v1M48.5 379v1M49.5 379v1M50.5 380v1M51.5 381v1M52.5 382v1M53.5 382v1M54.5 383v1M55.5 384v1M56.5 384v1M57.5 384v1M58.5 383v1M59.5 383v1M60.5 383v1M61.5 382v1M62.5 382v1M63.5 381v1M64.5 380v1M65.5 379v1M66.5 378v1M67.5 377v1M68.5 377v1M69.5 376v1M70.5 376v1M71.5 375v1M72.5 374v1M73.5 374v1M74.5 373v1M75.5 372v1M76.5 371v1M77.5 369v2M78.5 368v1M79.5 367v1M80.5 366v1M81.5 364v2M82.5 363v1M83.5 362v1M84.5 361v1M85.5 360v1M86.5 359v1M87.5 358v1M88.5 357v1M89.5 356v1M90.5 355v1M91.5 354v1M92.5 354v1M93.5 353v1M94.5 353v1M95.5 352v1M96.5 352v1M97.5 351v1M98.5 351v1M99.5 350v1M100.5 349v1M101.5 349v1M102.5 348v1M103.5 347v1M104.5 346v1M105.5 346v1M106.5 345v1M107.5 344v1M108.5 342v2M109.5 341v1M110.5 339v2M111.5 338v1M112.5 336v2M113.5 334v2M114.5 332v2M115.5 331v1M116.5 329v2M117.5 327v2M118.5 325v2M119.5 324v1M120.5 322v2M121.5 320v2M122.5 318v2M123.5 317v1M124.5 315v2M125.5 313v2M126.5 311v2M127.5 310v1M128.5 308v2M129.5 306v2M130.5 304v2M131.5 302v2M132.5 300v2M133.5 298v2M134.5 296v2M135.5 295v1M136.5 293v2M137.5 292v1M138.5 290v2M139.5 289v1M140.5 287v2M141.5 286v1M142.5 284v2M143.5 283v1M144.5 282v1M145.5 281v1M146.5 280v1M147.5 279v1M148.5 278v1M149.5 277v1M150.5 276v1M151.5 275v1M152.5 274v1M153.5 274v1M154.5 273v1M155.5 272v1M156.5 271v1M157.5 270v1M158.5 269v1M159.5 268v1M160.5 267v1M161.5 267v1M162.5 266v1M163.5 265v1M164.5 264v1M165.5 263v1M166.5 262v1M167.5 261v1M168.5 260v1M169.5 260v1M170.5 259v1M171.5 258v1M172.5 257v1M173.5 256v1M174.5 255v1M175.5 254v1M176.5 253v1M177.5 253v1M178.5 252v1M179.5 251v1M180.5 250v1M181.5 249v1M182.5 248v1M183.5 247v1M184.5 246v1M185.5 246v1M186.5 245v1M187.5 244v1M188.5 244v1M189.5 243v1M190.5 243v1M191.5 242v1M192.5 242v1M193.5 241v1M194.5 241v1M195.5 240v1M196.5 240v1M197.5 239v1M198.5 239v1M199.5 238v1M200.5 238v1M201.5 238v1M202.5 237v1M203.5 237v1M204.5 237v1M205.5 237v1M206.5 237v1M207.5 237v1M208.5 237v1M209.5 237v1M210.5 236v1M211.5 236v1M212.5 236v1M213.5 236v1M214.5 237v1M215.5 237v1M216.5 237v1M217.5 238v1M218.5 238v1M219.5 239v1M220.5 239v1M221.5 238v1M222.5 238v1M223.5 237v1M224.5 236v1M225.5 236v1M226.5 235v1M227.5 234v1M228.5 234v1M229.5 233v1M230.5 233v1M231.5 232v1M232.5 232v1M233.5 232v1M234.5 231v1M235.5 231v1M236.5 231v1M237.5 231v1M238.5 230v1M239.5 230v1M240.5 230v1M241.5 230v1M242.5 229v1M243.5 229v1M244.5 229v1M245.5 229v1M246.5 229v1M247.5 229v1M248.5 229v1M249.5 229v1M250.5 229v1M251.5 229v1M252.5 229v1M253.5 229v1M254.5 229v1M255.5 229v1M256.5 229v1M257.5 229v1M258.5 228v1M259.5 228v1M260.5 228v1M261.5 228v1M262.5 228v1M263.5 228v1M264.5 228v1M265.5 228v1M266.5 228v1M267.5 228v1M268.5 228v1M269.5 228v1M270.5 229v1M271.5 229v1M272.5 230v1M273.5 230v1M274.5 231v1M275.5 232v1M276.5 233v1M277.5 233v1M278.5 234v1M279.5 235v1M280.5 236v1M281.5 236v1M282.5 237v1M283.5 238v1M284.5 239v1M285.5 239v1M286.5 240v1M287.5 241v1M288.5 241v1M289.5 242v1M290.5 242v1M291.5 243v1M292.5 243v1M293.5 244v1M294.5 244v1M295.5 245v1M296.5 245v1M297.5 245v1M298.5 246v1M299.5 246v1M300.5 247v1M301.5 247v1M302.5 248v1M303.5 249v1M304.5 250v1M305.5 250v1M306.5 251v1M307.5 252v1M308.5 253v1M309.5 254v1M310.5 255v1M311.5 256v1M312.5 257v1M313.5 257v1M314.5 258v1M315.5 259v1M316.5 260v1M317.5 261v2M318.5 263v1M319.5 264v1M320.5 265v2M321.5 267v1M322.5 268v2M323.5 270v1M324.5 271v1M325.5 272v1M326.5 273v1M327.5 274v1M328.5 274v1M329.5 275v1M330.5 275v1M331.5 276v1M332.5 276v1M333.5 277v1M334.5 277v1M335.5 278v1M336.5 278v1M337.5 278v1M338.5 279v1M339.5 279v1M340.5 279v1M341.5 279v1M342.5 280v1M343.5 280v1M344.5 280v1M345.5 280v1M346.5 280v1M347.5 280v1M348.5 280v1M349.5 280v1M350.5 279v1M351.5 279v1M352.5 279v1M353.5 278v1M354.5 278v1M355.5 277v1M356.5 276v1M357.5 275v1M358.5 274v1M359.5 273v1M360.5 272v1M361.5 270v2M362.5 269v1M363.5 268v1M364.5 266v2M365.5 265v1M366.5 263v2M367.5 262v1M368.5 260v2M369.5 258v2M370.5 256v2M371.5 254v2M372.5 252v2M373.5 250v2M374.5 248v2M375.5 246v2M376.5 244v2M377.5 242v2M378.5 240v2M379.5 238v2M380.5 235v3M381.5 232v3M382.5 229v3M383.5 226v3M384.5 224v2M385.5 221v3M386.5 219v2M387.5 216v3M388.5 214v2M389.5 212v2M390.5 210v2M391.5 207v3M392.5 205v2M393.5 203v2M394.5 201v2M395.5 199v2M396.5 197v2M397.5 194v3M398.5 192v2M399.5 189v3M400.5 187v2M401.5 185v2M402.5 183v2M403.5 180v3M404.5 178v2M405.5 176v2M406.5 174v2M407.5 171v3M408.5 169v2M409.5 167v2M410.5 165v2M411.5 163v2M412.5 161v2M413.5 159v2M414.5 157v2M415.5 156v1M416.5 154v2M417.5 152v2M418.5 150v2M419.5 149v1M420.5 147v2M421.5 145v2M422.5 143v2M423.5 142v1M424.5 141v1M425.5 139v2M426.5 138v1M427.5 137v1M428.5 135v2M429.5 134v1M430.5 132v2M431.5 131v1M432.5 129v2M433.5 127v2M434.5 125v2M435.5 124v1M436.5 122v2M437.5 120v2M438.5 118v2M439.5 117v1M440.5 115v2M441.5 114v1M442.5 112v2M443.5 111v1M444.5 110v1M445.5 109v1M446.5 108v1M447.5 107v1M448.5 107v1M449.5 106v1M450.5 106v1M451.5 105v1M452.5 105v1M453.5 106v1M454.5 106v1M455.5 107v1M456.5 107v1M457.5 108v1M458.5 108v1M459.5 109v1M460.5 109v1M461.5 110v1M462.5 110v1M463.5 111v1M464.5 112v1M465.5 112v1M466.5 113v1M467.5 114v1M468.5 115v1M469.5 116v1M470.5 117v1M471.5 118v1M472.5 119v1M473.5 120v1M474.5 121v1M475.5 122v1M476.5 123v1M477.5 124v2M478.5 126v1M479.5 127v1M480.5 128v1M481.5 128v1M482.5 129v1M483.5 130v1M484.5 131v1M485.5 132v2M486.5 134v1M487.5 135v1M488.5 136v2M489.5 138v1M490.5 139v2M491.5 141v2M492.5 143v2M493.5 145v2M494.5 147v2M495.5 149v1M496.5 150v2M497.5 152v1M498.5 153v2M499.5 155v1M500.5 156v1M501.5 157v2M502.5 159v1M503.5 160v1M504.5 161v2M505.5 163v1M506.5 164v2M507.5 166v1M508.5 167v1M509.5 167v1M510.5 168v1M511.5 169v1M512.5 170v1M513.5 171v1M514.5 172v1M515.5 173v1M516.5 174v2M517.5 176v2M518.5 178v2M519.5 180v1M520.5 181v2M521.5 183v2M522.5 185v2M523.5 187v2M524.5 189v2M525.5 191v2M526.5 193v2M527.5 195v3M528.5 198v2M529.5 200v2M530.5 202v2M531.5 204v2M532.5 206v2M533.5 208v2M534.5 210v2M535.5 212v1M536.5 213v2M537.5 215v2M538.5 217v2M539.5 219v1M540.5 220v2M541.5 222v2M542.5 224v2M543.5 226v2M544.5 228v2M545.5 230v2M546.5 232v2M547.5 234v2M548.5 236v3M549.5 239v2M550.5 241v3M551.5 244v2M552.5 246v2M553.5 248v2M554.5 250v2M555.5 252v1M556.5 253v2M557.5 255v2M558.5 257v2M559.5 259v1M560.5 260v2M561.5 262v1M562.5 263v2M563.5 265v1M564.5 266v1M565.5 267v1M566.5 268v1M567.5 269v1M568.5 270v1M569.5 271v2M570.5 273v1M571.5 274v1M572.5 274v1M573.5 274v1M574.5 275v1M575.5 275v1M576.5 275v1M577.5 275v1M578.5 276v1M579.5 276v1M580.5 277v1M581.5 277v1M582.5 278v1M583.5 279v2M584.5 281v3M585.5 284v2M586.5 286v3M587.5 289v3M588.5 292v3M589.5 295v3M590.5 298v3M591.5 301v3M592.5 304v3M593.5 307v4M594.5 311v3M595.5 314v3M596.5 317v4M597.5 321v3M598.5 324v4M599.5 328v3M600.5 331v3M601.5 334v2M602.5 336v3M603.5 339v3M604.5 342v2M605.5 344v3M606.5 347v2M607.5 349v2M608.5 351v2M609.5 353v1M610.5 354v2M611.5 356v1M612.5 357v2M613.5 359v2M614.5 361v2M615.5 363v1M616.5 364v1M617.5 365v2M618.5 367v1M619.5 368v1M620.5 369v1M621.5 369v1M622.5 370v1M623.5 371v1M624.5 371v1M625.5 371v1M626.5 371v1M627.5 371v1M628.5 371v1M629.5 372v1M630.5 372v1M631.5 373v1M632.5 373v1M633.5 374v1M634.5 374v1M635.5 375v1M636.5 375v1M637.5 375v1M638.5 375v1M639.5 375v1M640.5 375v1M641.5 375v1M642.5 376v1M643.5 376v1M644.5 376v1M645.5 376v1M646.5 376v1M647.5 376v1M648.5 376v1M649.5 377v1M650.5 377v1M651.5 378v1M652.5 379v1M653.5 380v2M654.5 382v1M655.5 383v1M656.5 384v1M657.5 385v2M658.5 387v1M659.5 388v1M660.5 389v1M661.5 390v2M662.5 392v1M663.5 393v1M664.5 394v1M665.5 395v1M666.5 396v1M667.5 397v1M668.5 397v1M669.5 396v1M670.5 396v1M671.5 395v1M672.5 394v1M673.5 392v2M674.5 391v1M675.5 390v1M676.5 389v1M677.5 388v1M678.5 387v1M679.5 386v1M680.5 385v1M681.5 384v1M682.5 383v1M683.5 382v1M684.5 381v1M685.5 380v1M686.5 379v1M687.5 378v1M688.5 378v1M689.5 377v1M690.5 377v1M691.5 376v1M692.5 375v1M693.5 375v1M694.5 374v1M695.5 373v1M696.5 372v1M697.5 372v1M698.5 371v1M699.5 370v1M700.5 369v1M701.5 369v1M702.5 368v1M703.5 367v1M704.5 367v1M705.5 366v1M706.5 366v1M707.5 365v1M708.5 364v1M709.5 364v1M710.5 363v1M711.5 362v1M712.5 361v1M713.5 361v1M714.5 360v1M715.5 359v1M716.5 359v1M717.5 358v1M718.5 358v1M719.5 357v1M720.5 357v1M721.5 357v1M722.5 357v1M723.5 357v1M724.5 357v1M725.5 357v1M726.5 356v1M727.5 356v1M728.5 357v1M729.5 357v1M730.5 358v1M731.5 359v1M732.5 360v1M733.5 360v1M734.5 361v1M735.5 362v1M736.5 363v1M737.5 364v1M738.5 365v1M739.5 366v1M740.5 367v2M741.5 369v2M742.5 371v2M743.5 373v1M744.5 374v1M745.5 375v1M746.5 376v1M747.5 377v1M748.5 378v1M749.5 379v2M750.5 381v1M751.5 382v1M752.5 383v1M753.5 384v2M754.5 386v1M755.5 387v1M756.5 388v2M757.5 390v2M758.5 392v2M759.5 394v1M760.5 395v1M761.5 396v1M762.5 397v1M763.5 398v1M764.5 399v1M765.5 400v2M766.5 402v1M767.5 403v1M768.5 404v1M769.5 404v1M770.5 405v1M771.5 406v1M772.5 407v1M773.5 408v1M774.5 409v1M775.5 410v1M776.5 410v1M777.5 411v1M778.5 411v1M779.5 412v1M780.5 413v1M781.5 413v1M782.5 414v1M783.5 415v1M784.5 416v1M785.5 416v1M786.5 417v1M787.5 418v1M788.5 419v1M789.5 420v1M790.5 421v1M791.5 422v1M792.5 423v1M793.5 424v2M794.5 426v1M795.5 427v1M796.5 428v1M797.5 429v1M798.5 430v1M799.5 431v1M800.5 432v1M801.5 433v2M802.5 435v1M803.5 436v1M804.5 437v2M805.5 439v2M806.5 441v2M807.5 443v1M808.5 444v2M809.5 446v2M810.5 448v2M811.5 450v1M812.5 451v1M813.5 452v2M814.5 454v1M815.5 455v1M816.5 455v1M817.5 455v1M818.5 456v1M819.5 456v1M820.5 456v1M821.5 456v1M822.5 457v1M823.5 457v1M824.5 456v1M825.5 454v2M826.5 453v1M827.5 452v1M828.5 450v2M829.5 448v2M830.5 446v2M831.5 445v1M832.5 443v2M833.5 441v2M834.5 439v2M835.5 438v1M836.5 436v2M837.5 434v2M838.5 432v2M839.5 431v1M840.5 430v1M841.5 428v2M842.5 427v1M843.5 426v1M844.5 424v2M845.5 423v1M846.5 421v2M847.5 420v1M848.5 419v1M849.5 417v2M850.5 416v1M851.5 415v1M852.5 413v2M853.5 412v1M854.5 410v2M855.5 409v1M856.5 408v1M857.5 406v2M858.5 405v1M859.5 404v1M860.5 402v2M861.5 401v1M862.5 399v2M863.5 398v1M864.5 397v1M865.5 395v2M866.5 394v1M867.5 393v1M868.5 391v2M869.5 390v1M870.5 388v2M871.5 387v1M872.5 385v2M873.5 384v1M874.5 382v2M875.5 381v1M876.5 380v1M877.5 378v2M878.5 377v1M879.5 376v1M880.5 376v1M881.5 375v1M882.5 375v1M883.5 374v1M884.5 373v1M885.5 372v1M886.5 371v1M887.5 369v2M888.5 367v2M889.5 365v2M890.5 363v2M891.5 360v3M892.5 358v2M893.5 356v2M894.5 354v2M895.5 353v1M896.5 352v1M897.5 350v2M898.5 349v1M899.5 348v1M900.5 346v2M901.5 345v1M902.5 343v2M903.5 342v1M904.5 341v1M905.5 340v1M906.5 339v1M907.5 338v1M908.5 338v1M909.5 338v1M910.5 338v1M911.5 338v1M912.5 338v1M913.5 338v1M914.5 339v1M915.5 339v1M916.5 339v1M917.5 339v1M918.5 338v1M919.5 338v1M920.5 338v1M921.5 338v1M922.5 337v1M923.5 337v1M924.5 337v1M925.5 337v1M926.5 336v1M927.5 336v1M928.5 336v1M929.5 335v1M930.5 335v1M931.5 334v1M932.5 332v2M933.5 331v1M934.5 329v2M935.5 328v1M936.5 327v1M937.5 326v1M938.5 325v1M939.5 324v1M940.5 323v1M941.5 323v1M942.5 322v1M943.5 321v1M944.5 321v1M945.5 320v1M946.5 320v1M947.5 319v1M948.5 319v1M949.5 319v1M950.5 318v1M951.5 318v1M952.5 318v1M953.5 318v1M954.5 318v1M955.5 318v1M956.5 318v1M957.5 317v1M958.5 317v1M959.5 316v1M960.5 316v1M961.5 316v1M962.5 315v1M963.5 315v1M964.5 315v1M965.5 314v1M966.5 314v1M967.5 313v1M968.5 313v1M969.5 312v1M970.5 312v1M971.5 311v1M972.5 311v1M973.5 310v1M974.5 310v1M975.5 309v1M976.5 309v1M977.5 309v1M978.5 308v1M979.5 308v1M980.5 308v1M981.5 307v1M982.5 307v1M983.5 306v1M984.5 306v1M985.5 305v1M986.5 305v1M987.5 304v1M988.5 304v1M989.5 304v1M990.5 303v1M991.5 303v1M992.5 303v1M993.5 303v1M994.5 303v1M995.5 303v1M996.5 303v1M997.5 304v1M998.5 304v1M999.5 305v1M1000.5 306v1M1001.5 306v1M1002.5 307v1M1003.5 308v1M1004.5 308v1M1005.5 309v1M1006.5 309v1M1007.5 310v1M1008.5 310v1M1009.5 310v1M1010.5 311v1M1011.5 311v1M1012.5 311v1M1013.5 311v1M1014.5 311v1M1015.5 311v1M1016.5 311v1M1017.5 311v1M1018.5 311v1M1019.5 311v1M1020.5 311v1M1021.5 311v1M1022.5 312v1M1023.5 312v1M1024.5 312v1M1025.5 312v1M1026.5 313v1M1027.5 313v1M1028.5 313v1M1029.5 314v1M1030.5 314v1M1031.5 315v1M1032.5 315v1M1033.5 315v1M1034.5 315v1M1035.5 315v1M1036.5 315v1M1037.5 315v1M1038.5 316v1M1039.5 316v1M1040.5 317v1M1041.5 318v1M1042.5 319v1M1043.5 320v1M1044.5 321v1M1045.5 321v1M1046.5 322v1M1047.5 323v1M1048.5 324v1M1049.5 324v1M1050.5 325v1M1051.5 326v1M1052.5 327v1M1053.5 327v1M1054.5 328v1M1055.5 329v1M1056.5 329v1M1057.5 330v1M1058.5 330v1M1059.5 331v1M1060.5 332v1M1061.5 332v1M1062.5 333v1M1063.5 334v1M1064.5 334v1M1065.5 334v1M1066.5 335v1M1067.5 335v1M1068.5 335v1M1069.5 335v1M1070.5 335v1M1071.5 335v1M1072.5 335v1M1073.5 334v1M1074.5 334v1M1075.5 333v1M1076.5 333v1M1077.5 333v1M1078.5 332v1M1079.5 332v1M1080.5 331v1M1081.5 331v1M1082.5 330v1M1083.5 329v1M1084.5 329v1M1085.5 328v1M1086.5 328v1M1087.5 327v1M1088.5 327v1M1089.5 327v1M1090.5 326v1M1091.5 326v1M1092.5 326v1M1093.5 326v1M1094.5 325v1M1095.5 325v1M1096.5 325v1M1097.5 325v1M1098.5 326v1M1099.5 326v1M1100.5 326v1M1101.5 327v1M1102.5 327v1M1103.5 328v1M1104.5 328v1M1105.5 328v1M1106.5 329v1M1107.5 329v1M1108.5 329v1M1109.5 329v1M1110.5 330v1M1111.5 330v1M1112.5 330v1M1113.5 330v1M1114.5 331v1M1115.5 331v1M1116.5 331v1M1117.5 331v1M1118.5 330v1M1119.5 330v1M1120.5 329v1M1121.5 328v1M1122.5 327v1M1123.5 326v1M1124.5 325v1M1125.5 324v1M1126.5 323v1M1127.5 322v1" fill="none" stroke="#ffff00" stroke-width="1" shape-rendering="crispEdges"/>
<path d="M3.5 342v2M4.5 344v2M5.5 346v2M6.5 348v2M7.5 350v1M8.5 350v1M9.5 351v1M10.5 351v1M11.5 352v1M12.5 353v1M13.5 354v1M14.5 355v1M15.5 356v1M16.5 357v1M17.5 358v2M18.5 360v1M19.5 361v1M20.5 361v1M21.5 361v1M22.5 362v1M23.5 362v2M24.5 364v2M25.5 366v2M26.5 368v2M27.5 370v3M28.5 373v3M29.5 376v2M30.5 378v3M31.5 381v2M32.5 383v1M33.5 384v2M34.5 386v1M35.5 387v1M36.5 387v1M37.5 388v1M38.5 388v1M39.5 389v1M40.5 390v1M41.5 391v1M42.5 392v1M43.5 393v1M44.5 394v1M45.5 395v1M46.5 396v1M47.5 397v1M48.5 398v1M49.5 398v1M50.5 399v1M51.5 400v1M52.5 399v1M53.5 399v1M54.5 398v1M55.5 397v1M56.5 396v1M57.5 394v2M58.5 393v1M59.5 391v2M60.5 389v2M61.5 387v2M62.5 385v2M63.5 384v1M64.5 383v1M65.5 383v1M66.5 382v1M67.5 381v1M68.5 380v1M69.5 379v1M70.5 378v1M71.5 377v1M72.5 375v2M73.5 373v2M74.5 371v2M75.5 370v1M76.5 368v2M77.5 367v1M78.5 365v2M79.5 363v2M80.5 361v2M81.5 358v3M82.5 356v2M83.5 353v3M84.5 351v2M85.5 349v2M86.5 347v2M87.5 344v3M88.5 341v3M89.5 339v2M90.5 336v3M91.5 334v2M92.5 332v2M93.5 330v2M94.5 328v2M95.5 327v1M96.5 326v1M97.5 324v2M98.5 323v1M99.5 322v1M100.5 320v2M101.5 319v1M102.5 317v2M103.5 315v2M104.5 313v2M105.5 311v2M106.5 309v2M107.5 308v1M108.5 307v1M109.5 306v1M110.5 305v1M111.5 304v1M112.5 303v1M113.5 302v1M114.5 301v1M115.5 300v1M116.5 300v1M117.5 299v1M118.5 299v1M119.5 298v1M120.5 298v1M121.5 298v1M122.5 297v1M123.5 297v1M124.5 296v1M125.5 296v1M126.5 295v1M127.5 294v1M128.5 293v1M129.5 293v1M130.5 292v1M131.5 291v1M132.5 290v1M133.5 290v1M134.5 289v1M135.5 288v1M136.5 287v1M137.5 287v1M138.5 286v1M139.5 285v1M140.5 284v1M141.5 284v1M142.5 283v1M143.5 282v1M144.5 280v2M145.5 278v2M146.5 276v2M147.5 274v2M148.5 272v2M149.5 269v3M150.5 267v2M151.5 264v3M152.5 262v2M153.5 259v3M154.5 257v2M155.5 255v2M156.5 253v2M157.5 252v1M158.5 250v2M159.5 249v1M160.5 247v2M161.5 246v1M162.5 244v2M163.5 243v1M164.5 241v2M165.5 239v2M166.5 237v2M167.5 236v1M168.5 234v2M169.5 233v1M170.5 231v2M171.5 230v1M172.5 229v1M173.5 229v1M174.5 228v1M175.5 227v1M176.5 227v1M177.5 227v1M178.5 226v1M179.5 226v1M180.5 226v1M181.5 226v1M182.5 226v1M183.5 226v1M184.5 226v1M185.5 226v1M186.5 227v1M187.5 227v1M188.5 227v1M189.5 228v1M190.5 228v1M191.5 229v1M192.5 229v1M193.5 229v1M194.5 228v1M195.5 228v1M196.5 228v1M197.5 228v1M198.5 228v1M199.5 228v1M200.5 228v1M201.5 229v1M202.5 229v1M203.5 230v1M204.5 231v2M205.5 233v1M206.5 234v2M207.5 236v1M208.5 237v1M209.5 238v2M210.5 240v1M211.5 241v1M212.5 242v1M213.5 243v1M214.5 244v1M215.5 245v1M216.5 246v1M217.5 246v1M218.5 247v1M219.5 248v1M220.5 248v1M221.5 248v1M222.5 249v1M223.5 249v1M224.5 248v1M225.5 248v1M226.5 247v1M227.5 246v1M228.5 245v1M229.5 245v1M230.5 244v1M231.5 243v1M232.5 242v1M233.5 241v1M234.5 240v1M235.5 239v1M236.5 238v1M237.5 236v2M238.5 235v1M239.5 234v1M240.5 232v2M241.5 231v1M242.5 229v2M243.5 228v1M244.5 227v1M245.5 225v2M246.5 224v1M247.5 223v1M248.5 223v1M249.5 222v1M250.5 222v1M251.5 221v1M252.5 221v1M253.5 220v1M254.5 220v1M255.5 219v1M256.5 219v1M257.5 218v1M258.5 218v1M259.5 217v1M260.5 217v1M261.5 216v1M262.5 216v1M263.5 215v1M264.5 215v1M265.5 215v1M266.5 214v1M267.5 214v1M268.5 214v1M269.5 214v1M270.5 214v1M271.5 214v1M272.5 215v1M273.5 216v2M274.5 218v1M275.5 219v1M276.5 220v2M277.5 222v2M278.5 224v2M279.5 226v1M280.5 227v2M281.5 229v1M282.5 230v2M283.5 232v2M284.5 234v2M285.5 236v3M286.5 239v2M287.5 241v3M288.5 244v2M289.5 246v3M290.5 249v2M291.5 251v3M292.5 254v2M293.5 256v2M294.5 258v2M295.5 260v2M296.5 262v2M297.5 264v3M298.5 267v2M299.5 269v3M300.5 272v2M301.5 274v2M302.5 276v2M303.5 278v1M304.5 279v2M305.5 281v1M306.5 282v2M307.5 284v1M308.5 285v1M309.5 286v1M310.5 287v1M311.5 288v1M312.5 288v1M313.5 289v1M314.5 289v1M315.5 290v1M316.5 290v1M317.5 291v1M318.5 291v1M319.5 292v1M320.5 293v1M321.5 293v1M322.5 294v1M323.5 295v1M324.5 295v1M325.5 295v1M326.5 295v1M327.5 295v1M328.5 293v2M329.5 292v1M330.5 290v2M331.5 289v1M332.5 288v1M333.5 286v2M334.5 285v1M335.5 284v1M336.5 283v1M337.5 283v1M338.5 282v1M339.5 281v1M340.5 280v1M341.5 278v2M342.5 277v1M343.5 276v1M344.5 275v1M345.5 273v2M346.5 272v1M347.5 271v1M348.5 269v2M349.5 268v1M350.5 266v2M351.5 265v1M352.5 264v1M353.5 262v2M354.5 261v1M355.5 260v1M356.5 259v1M357.5 257v2M358.5 256v1M359.5 255v1M360.5 254v1M361.5 252v2M362.5 251v1M363.5 250v1M364.5 248v2M365.5 247v1M366.5 245v2M367.5 244v1M368.5 242v2M369.5 240v2M370.5 238v2M371.5 236v2M372.5 233v3M373.5 231v2M374.5 228v3M375.5 225v3M376.5 222v3M377.5 220v2M378.5 217v3M379.5 214v3M380.5 211v3M381.5 209v2M382.5 206v3M383.5 203v3M384.5 200v3M385.5 198v2M386.5 195v3M387.5 192v3M388.5 189v3M389.5 186v3M390.5 183v3M391.5 180v3M392.5 177v3M393.5 174v3M394.5 171v3M395.5 168v3M396.5 164v4M397.5 161v3M398.5 157v4M399.5 154v3M400.5 152v2M401.5 149v3M402.5 147v2M403.5 144v3M404.5 142v2M405.5 139v3M406.5 137v2M407.5 134v3M408.5 132v2M409.5 130v2M410.5 128v2M411.5 125v3M412.5 123v2M413.5 120v3M414.5 118v2M415.5 115v3M416.5 113v2M417.5 111v2M418.5 109v2M419.5 108v1M420.5 106v2M421.5 104v2M422.5 102v2M423.5 101v1M424.5 100v1M425.5 100v1M426.5 99v1M427.5 98v1M428.5 97v1M429.5 97v1M430.5 96v1M431.5 95v1M432.5 94v1M433.5 94v1M434.5 93v1M435.5 92v1M436.5 92v1M437.5 91v1M438.5 91v1M439.5 90v1M440.5 91v1M441.5 91v1M442.5 92v1M443.5 93v1M444.5 94v1M445.5 94v1M446.5 95v1M447.5 96v1M448.5 97v2M449.5 99v2M450.5 101v2M451.5 103v2M452.5 105v2M453.5 107v2M454.5 109v2M455.5 111v2M456.5 113v2M457.5 115v2M458.5 117v2M459.5 119v1M460.5 120v2M461.5 122v1M462.5 123v2M463.5 125v1M464.5 126v1M465.5 127v2M466.5 129v1M467.5 130v1M468.5 131v1M469.5 132v2M470.5 134v1M471.5 135v1M472.5 136v1M473.5 137v2M474.5 139v1M475.5 140v1M476.5 141v1M477.5 142v1M478.5 143v1M479.5 144v1M480.5 145v1M481.5 146v1M482.5 147v1M483.5 148v1M484.5 149v2M485.5 151v1M486.5 152v2M487.5 154v2M488.5 156v2M489.5 158v2M490.5 160v2M491.5 162v2M492.5 164v3M493.5 167v2M494.5 169v3M495.5 172v3M496.5 175v2M497.5 177v3M498.5 180v2M499.5 182v2M500.5 184v2M501.5 186v1M502.5 187v2M503.5 189v1M504.5 189v1M505.5 189v1M506.5 190v1M507.5 190v1M508.5 190v1M509.5 190v1M510.5 190v1M511.5 190v1M512.5 190v1M513.5 190v1M514.5 191v1M515.5 191v1M516.5 192v1M517.5 192v1M518.5 193v1M519.5 194v2M520.5 196v2M521.5 198v2M522.5 200v2M523.5 202v3M524.5 205v2M525.5 207v2M526.5 209v2M527.5 211v3M528.5 214v3M529.5 217v2M530.5 219v3M531.5 222v3M532.5 225v2M533.5 227v2M534.5 229v2M535.5 231v2M536.5 233v3M537.5 236v4M538.5 240v3M539.5 243v3M540.5 246v3M541.5 249v4M542.5 253v3M543.5 256v3M544.5 259v2M545.5 261v3M546.5 264v2M547.5 266v3M548.5 269v2M549.5 271v2M550.5 273v2M551.5 275v1M552.5 276v2M553.5 278v1M554.5 279v2M555.5 281v1M556.5 282v1M557.5 283v2M558.5 285v1M559.5 286v2M560.5 288v2M561.5 290v2M562.5 292v2M563.5 294v2M564.5 296v1M565.5 297v1M566.5 298v1M567.5 299v1M568.5 300v1M569.5 301v2M570.5 303v1M571.5 304v1M572.5 304v1M573.5 305v1M574.5 305v1M575.5 306v1M576.5 306v1M577.5 306v1M578.5 306v1M579.5 306v1M580.5 306v1M581.5 306v1M582.5 306v1M583.5 306v1M584.5 307v2M585.5 309v2M586.5 311v2M587.5 313v2M588.5 315v3M589.5 318v2M590.5 320v3M591.5 323v3M592.5 326v3M593.5 329v2M594.5 331v3M595.5 334v3M596.5 337v2M597.5 339v2M598.5 341v2M599.5 343v2M600.5 345v2M601.5 347v2M602.5 349v2M603.5 351v1M604.5 352v2M605.5 354v2M606.5 356v2M607.5 358v2M608.5 360v2M609.5 362v3M610.5 365v2M611.5 367v3M612.5 370v3M613.5 373v3M614.5 376v3M615.5 379v3M616.5 382v2M617.5 384v2M618.5 386v2M619.5 388v3M620.5 391v2M621.5 393v2M622.5 395v2M623.5 397v1M624.5 398v2M625.5 400v2M626.5 402v2M627.5 404v2M628.5 406v2M629.5 408v2M630.5 410v2M631.5 412v3M632.5 415v2M633.5 417v3M634.5 420v2M635.5 422v2M636.5 423v1M637.5 423v1M638.5 423v1M639.5 423v1M640.5 421v2M641.5 419v2M642.5 417v2M643.5 415v2M644.5 413v2M645.5 411v2M646.5 409v2M647.5 406v3M648.5 403v3M649.5 401v2M650.5 398v3M651.5 395v3M652.5 392v3M653.5 390v2M654.5 387v3M655.5 384v3M656.5 382v2M657.5 379v3M658.5 377v2M659.5 375v2M660.5 374v1M661.5 372v2M662.5 371v1M663.5 370v1M664.5 368v2M665.5 367v1M666.5 365v2M667.5 364v1M668.5 363v1M669.5 362v1M670.5 361v1M671.5 360v1M672.5 359v1M673.5 359v1M674.5 358v1M675.5 357v1M676.5 357v1M677.5 357v1M678.5 356v1M679.5 356v1M680.5 356v1M681.5 356v1M682.5 357v1M683.5 357v1M684.5 357v1M685.5 358v1M686.5 358v1M687.5 359v1M688.5 359v1M689.5 360v1M690.5 360v1M691.5 361v1M692.5 362v1M693.5 363v1M694.5 364v1M695.5 365v1M696.5 366v1M697.5 367v2M698.5 369v1M699.5 370v1M700.5 371v2M701.5 373v1M702.5 374v2M703.5 376v1M704.5 376v1M705.5 376v1M706.5 376v1M707.5 376v1M708.5 375v1M709.5 375v1M710.5 374v1M711.5 373v1M712.5 373v1M713.5 373v1M714.5 372v1M715.5 372v1M716.5 371v1M717.5 369v2M718.5 368v1M719.5 367v1M720.5 366v1M721.5 365v1M722.5 364v1M723.5 363v1M724.5 361v2M725.5 360v1M726.5 358v2M727.5 357v1M728.5 357v1M729.5 357v1M730.5 357v1M731.5 357v1M732.5 358v1M733.5 358v1M734.5 359v1M735.5 360v1M736.5 360v1M737.5 360v1M738.5 360v1M739.5 360v2M740.5 362v2M741.5 364v2M742.5 366v2M743.5 368v1M744.5 369v1M745.5 370v1M746.5 371v1M747.5 372v1M748.5 373v1M749.5 374v1M750.5 375v1M751.5 376v2M752.5 378v2M753.5 380v2M754.5 382v2M755.5 384v2M756.5 386v2M757.5 388v3M758.5 391v2M759.5 393v3M760.5 396v3M761.5 399v2M762.5 401v3M763.5 404v3M764.5 407v4M765.5 411v4M766.5 415v4M767.5 419v3M768.5 422v2M769.5 424v3M770.5 427v2M771.5 429v3M772.5 432v2M773.5 434v3M774.5 437v2M775.5 439v3M776.5 442v2M777.5 444v2M778.5 446v2M779.5 448v2M780.5 450v3M781.5 453v3M782.5 456v3M783.5 459v2M784.5 461v1M785.5 462v2M786.5 464v1M787.5 465v1M788.5 465v1M789.5 465v1M790.5 466v1M791.5 466v1M792.5 467v1M793.5 467v1M794.5 468v1M795.5 469v1M796.5 467v2M797.5 465v2M798.5 463v2M799.5 462v1M800.5 461v1M801.5 459v2M802.5 458v1M803.5 457v1M804.5 457v1M805.5 457v1M806.5 457v1M807.5 457v1M808.5 457v1M809.5 457v1M810.5 456v1M811.5 456v1M812.5 456v1M813.5 456v1M814.5 455v1M815.5 455v1M816.5 453v2M817.5 451v2M818.5 449v2M819.5 448v1M820.5 446v2M821.5 444v2M822.5 442v2M823.5 441v1M824.5 439v2M825.5 437v2M826.5 435v2M827.5 433v2M828.5 430v3M829.5 428v2M830.5 425v3M831.5 422v3M832.5 420v2M833.5 418v2M834.5 416v2M835.5 415v1M836.5 413v2M837.5 411v2M838.5 409v2M839.5 408v1M840.5 407v1M841.5 405v2M842.5 404v1M843.5 403v1M844.5 403v1M845.5 403v1M846.5 402v1M847.5 402v1M848.5 401v1M849.5 399v2M850.5 398v1M851.5 397v1M852.5 397v1M853.5 396v1M854.5 396v1M855.5 395v1M856.5 394v1M857.5 393v1M858.5 392v1M859.5 390v2M860.5 388v2M861.5 386v2M862.5 384v2M863.5 381v3M864.5 378v3M865.5 375v3M866.5 372v3M867.5 369v3M868.5 367v2M869.5 364v3M870.5 362v2M871.5 360v2M872.5 358v2M873.5 357v1M874.5 355v2M875.5 354v1M876.5 352v2M877.5 351v1M878.5 349v2M879.5 348v1M880.5 348v1M881.5 348v1M882.5 347v1M883.5 347v1M884.5 347v1M885.5 347v1M886.5 346v1M887.5 346v1M888.5 345v1M889.5 345v1M890.5 344v1M891.5 343v1M892.5 342v1M893.5 342v1M894.5 341v1M895.5 340v1M896.5 339v1M897.5 338v1M898.5 337v1M899.5 336v1M900.5 334v2M901.5 332v2M902.5 330v2M903.5 329v1M904.5 328v1M905.5 328v1M906.5 327v1M907.5 326v1M908.5 326v1M909.5 326v1M910.5 326v1M911.5 326v1M912.5 326v1M913.5 326v1M914.5 327v1M915.5 327v1M916.5 327v1M917.5 327v1M918.5 328v1M919.5 328v1M920.5 328v1M921.5 328v1M922.5 329v1M923.5 329v1M924.5 329v1M925.5 329v1M926.5 329v1M927.5 329v1M928.5 329v1M929.5 329v1M930.5 329v1M931.5 329v1M932.5 327v2M933.5 326v1M934.5 324v2M935.5 323v1M936.5 323v1M937.5 322v1M938.5 322v1M939.5 321v1M940.5 320v1M941.5 319v1M942.5 318v1M943.5 317v1M944.5 317v1M945.5 316v1M946.5 316v1M947.5 315v1M948.5 315v1M949.5 315v1M950.5 315v1M951.5 315v1M952.5 315v1M953.5 315v1M954.5 315v1M955.5 315v1M956.5 315v1M957.5 315v1M958.5 314v1M959.5 314v1M960.5 314v1M961.5 314v1M962.5 313v1M963.5 313v1M964.5 313v1M965.5 312v1M966.5 312v1M967.5 311v1M968.5 309v2M969.5 308v1M970.5 306v2M971.5 305v1M972.5 304v1M973.5 302v2M974.5 301v1M975.5 300v1M976.5 299v1M977.5 299v1M978.5 298v1M979.5 297v1M980.5 296v1M981.5 294v2M982.5 293v1M983.5 292v1M984.5 291v1M985.5 291v1M986.5 290v1M987.5 289v1M988.5 289v1M989.5 289v1M990.5 290v1M991.5 290v1M992.5 291v1M993.5 292v1M994.5 293v1M995.5 294v1M996.5 295v2M997.5 297v2M998.5 299v2M999.5 301v2M1000.5 303v2M1001.5 305v2M1002.5 307v2M1003.5 309v1M1004.5 310v1M1005.5 311v2M1006.5 313v1M1007.5 314v1M1008.5 315v1M1009.5 315v1M1010.5 316v1M1011.5 317v1M1012.5 318v1M1013.5 318v1M1014.5 319v1M1015.5 320v1M1016.5 320v1M1017.5 320v1M1018.5 320v1M1019.5 320v1M1020.5 320v1M1021.5 320v1M1022.5 320v1M1023.5 320v1M1024.5 320v1M1025.5 320v1M1026.5 321v1M1027.5 321v1M1028.5 321v1M1029.5 321v1M1030.5 322v1M1031.5 322v1M1032.5 323v1M1033.5 323v1M1034.5 324v1M1035.5 325v1M1036.5 326v1M1037.5 327v2M1038.5 329v1M1039.5 330v1M1040.5 331v2M1041.5 333v2M1042.5 335v2M1043.5 337v1M1044.5 338v1M1045.5 339v2M1046.5 341v1M1047.5 342v1M1048.5 342v1M1049.5 343v1M1050.5 343v1M1051.5 344v1M1052.5 344v1M1053.5 343v1M1054.5 343v1M1055.5 342v1M1056.5 340v2M1057.5 339v1M1058.5 337v2M1059.5 336v1M1060.5 335v1M1061.5 335v1M1062.5 334v1M1063.5 333v1M1064.5 332v1M1065.5 331v1M1066.5 330v1M1067.5 329v1M1068.5 328v1M1069.5 328v1M1070.5 327v1M1071.5 326v1M1072.5 325v1M1073.5 325v1M1074.5 324v1M1075.5 323v1M1076.5 323v1M1077.5 323v1M1078.5 324v1M1079.5 324v1M1080.5 324v1M1081.5 324v1M1082.5 324v1M1083.5 324v1M1084.5 325v1M1085.5 326v1M1086.5 327v1M1087.5 328v1M1088.5 329v1M1089.5 329v1M1090.5 330v1M1091.5 331v1M1092.5 331v1M1093.5 331v1M1094.5 330v1M1095.5 330v1M1096.5 330v1M1097.5 330v1M1098.5 329v1M1099.5 329v1M1100.5 328v1M1101.5 328v1M1102.5 327v1M1103.5 326v1M1104.5 326v1M1105.5 325v1M1106.5 325v1M1107.5 324v1M1108.5 324v1M1109.5 323v1M1110.5 323v1M1111.5 322v1M1112.5 322v1M1113.5 322v1M1114.5 322v1M1115.5 322v1M1116.5 321v1M1117.5 321v1M1118.5 320v1M1119.5 319v1M1120.5 319v1M1121.5 318v1M1122.5 318v1M1123.5 317v1M1124.5 317v1M1125.5 317v1M1126.5 317v1M1127.5 317v1" fill="none" stroke="#ff0000" stroke-width="1" shape-rendering="crispEdges"/>
<path d="M3.5 371v1M4.5 372v1M5.5 373v2M6.5 375v1M7.5 376v1M8.5 375v1M9.5 375v1M10.5 374v1M11.5 373v2M12.5 375v2M13.5 377v2M14.5 379v2M15.5 381v2M16.5 382v1M17.5 382v1M18.5 382v1M19.5 382v1M20.5 382v1M21.5 382v1M22.5 383v1M23.5 383v1M24.5 384v1M25.5 385v1M26.5 386v1M27.5 387v1M28.5 387v1M29.5 388v1M30.5 388v1M31.5 389v2M32.5 391v2M33.5 393v2M34.5 395v2M35.5 397v2M36.5 399v2M37.5 401v2M38.5 403v2M39.5 405v1M40.5 406v1M41.5 406v1M42.5 407v1M43.5 408v1M44.5 409v1M45.5 410v1M46.5 411v1M47.5 412v1M48.5 413v1M49.5 414v2M50.5 416v1M51.5 416v2M52.5 413v3M53.5 410v3M54.5 407v3M55.5 404v3M56.5 400v4M57.5 397v3M58.5 393v4M59.5 388v5M60.5 382v6M61.5 375v7M62.5 369v6M63.5 364v5M64.5 362v2M65.5 359v3M66.5 357v2M67.5 354v3M68.5 350v4M69.5 347v3M70.5 343v4M71.5 339v4M72.5 335v4M73.5 330v5M74.5 326v4M75.5 321v5M76.5 317v4M77.5 313v4M78.5 309v4M79.5 306v3M80.5 304v2M81.5 302v2M82.5 300v2M83.5 298v2M84.5 296v2M85.5 294v2M86.5 292v2M87.5 291v1M88.5 291v1M89.5 291v1M90.5 292v1M91.5 292v1M92.5 293v1M93.5 294v1M94.5 295v1M95.5 296v1M96.5 297v1M97.5 298v1M98.5 299v1M99.5 300v1M100.5 301v1M101.5 302v1M102.5 303v1M103.5 304v1M104.5 305v1M105.5 306v1M106.5 307v1M107.5 308v1M108.5 308v1M109.5 308v1M110.5 309v1M111.5 309v1M112.5 309v1M113.5 309v1M114.5 309v1M115.5 309v1M116.5 308v1M117.5 308v1M118.5 307v1M119.5 305v2M120.5 303v2M121.5 301v2M122.5 299v2M123.5 297v2M124.5 295v2M125.5 293v2M126.5 291v2M127.5 288v3M128.5 286v2M129.5 284v2M130.5 282v2M131.5 279v3M132.5 277v2M133.5 275v2M134.5 273v2M135.5 271v2M136.5 269v2M137.5 266v3M138.5 264v2M139.5 262v2M140.5 261v1M141.5 259v2M142.5 258v1M143.5 256v2M144.5 253v3M145.5 249v4M146.5 246v3M147.5 243v3M148.5 241v2M149.5 239v2M150.5 237v2M151.5 234v3M152.5 232v2M153.5 229v3M154.5 227v2M155.5 225v2M156.5 224v1M157.5 222v2M158.5 221v1M159.5 220v1M160.5 220v1M161.5 219v1M162.5 219v1M163.5 218v1M164.5 216v2M165.5 215v1M166.5 213v2M167.5 212v1M168.5 210v2M169.5 209v1M170.5 207v2M171.5 206v1M172.5 206v1M173.5 207v1M174.5 207v1M175.5 208v2M176.5 210v2M177.5 212v2M178.5 214v2M179.5 216v3M180.5 219v2M181.5 221v2M182.5 223v2M183.5 225v2M184.5 227v2M185.5 229v1M186.5 230v2M187.5 232v1M188.5 233v2M189.5 235v2M190.5 237v2M191.5 239v1M192.5 240v1M193.5 241v2M194.5 243v1M195.5 244v1M196.5 245v2M197.5 247v1M198.5 248v2M199.5 250v1M200.5 250v1M201.5 251v1M202.5 251v1M203.5 252v1M204.5 253v1M205.5 253v1M206.5 254v1M207.5 255v1M208.5 255v1M209.5 255v1M210.5 256v1M211.5 256v1M212.5 256v1M213.5 257v1M214.5 257v1M215.5 258v1M216.5 258v1M217.5 258v1M218.5 258v1M219.5 258v1M220.5 257v1M221.5 255v2M222.5 254v1M223.5 252v2M224.5 250v2M225.5 247v3M226.5 245v2M227.5 242v3M228.5 239v3M229.5 237v2M230.5 234v3M231.5 231v3M232.5 228v3M233.5 226v2M234.5 223v3M235.5 220v3M236.5 218v2M237.5 215v3M238.5 213v2M239.5 210v3M240.5 207v3M241.5 205v2M242.5 202v3M243.5 199v3M244.5 196v3M245.5 193v3M246.5 190v3M247.5 188v2M248.5 188v1M249.5 188v1M250.5 188v1M251.5 188v1M252.5 189v1M253.5 189v1M254.5 190v1M255.5 191v2M256.5 193v2M257.5 195v2M258.5 197v2M259.5 199v3M260.5 202v2M261.5 204v2M262.5 206v2M263.5 208v2M264.5 210v2M265.5 212v2M266.5 214v2M267.5 216v2M268.5 218v3M269.5 221v3M270.5 224v3M271.5 227v4M272.5 231v5M273.5 236v4M274.5 240v5M275.5 245v4M276.5 249v4M277.5 253v3M278.5 256v4M279.5 260v3M280.5 263v4M281.5 267v3M282.5 270v4M283.5 274v3M284.5 277v3M285.5 280v3M286.5 283v3M287.5 286v3M288.5 289v2M289.5 291v2M290.5 293v2M291.5 295v3M292.5 298v2M293.5 300v2M294.5 302v2M295.5 304v2M296.5 306v2M297.5 308v1M298.5 309v2M299.5 311v1M300.5 310v1M301.5 309v1M302.5 308v1M303.5 307v1M304.5 306v1M305.5 304v2M306.5 303v1M307.5 302v1M308.5 302v1M309.5 301v1M310.5 301v1M311.5 300v1M312.5 299v1M313.5 297v2M314.5 296v1M315.5 295v1M316.5 293v2M317.5 291v2M318.5 289v2M319.5 288v1M320.5 286v2M321.5 285v1M322.5 283v2M323.5 282v1M324.5 280v2M325.5 278v2M326.5 276v2M327.5 275v1M328.5 274v1M329.5 272v2M330.5 271v1M331.5 270v1M332.5 269v1M333.5 267v2M334.5 266v1M335.5 265v1M336.5 264v1M337.5 263v1M338.5 262v1M339.5 261v1M340.5 260v1M341.5 260v1M342.5 259v1M343.5 258v1M344.5 257v1M345.5 255v2M346.5 254v1M347.5 253v1M348.5 251v2M349.5 250v1M350.5 248v2M351.5 247v1M352.5 246v1M353.5 246v1M354.5 245v1M355.5 244v1M356.5 243v1M357.5 243v1M358.5 242v1M359.5 241v1M360.5 240v1M361.5 240v1M362.5 239v1M363.5 237v2M364.5 233v4M365.5 229v4M366.5 225v4M367.5 221v4M368.5 217v4M369.5 213v4M370.5 209v4M371.5 205v4M372.5 201v4M373.5 197v4M374.5 193v4M375.5 188v5M376.5 184v4M377.5 180v4M378.5 176v4M379.5 173v3M380.5 169v4M381.5 166v3M382.5 162v4M383.5 159v3M384.5 156v3M385.5 152v4M386.5 149v3M387.5 145v4M388.5 139v6M389.5 133v6M390.5 127v6M391.5 123v4M392.5 119v4M393.5 115v4M394.5 111v4M395.5 108v3M396.5 106v2M397.5 103v3M398.5 101v2M399.5 99v2M400.5 97v2M401.5 96v1M402.5 94v2M403.5 93v1M404.5 92v1M405.5 90v2M406.5 89v1M407.5 88v1M408.5 87v1M409.5 85v2M410.5 84v1M411.5 83v1M412.5 84v1M413.5 84v1M414.5 85v1M415.5 86v1M416.5 86v1M417.5 87v1M418.5 87v1M419.5 88v1M420.5 89v1M421.5 89v1M422.5 90v1M423.5 91v1M424.5 92v1M425.5 93v1M426.5 94v1M427.5 95v1M428.5 95v1M429.5 96v1M430.5 96v1M431.5 97v1M432.5 97v1M433.5 96v1M434.5 96v1M435.5 95v1M436.5 95v1M437.5 95v1M438.5 95v1M439.5 95v1M440.5 95v1M441.5 96v1M442.5 96v1M443.5 97v2M444.5 99v2M445.5 101v2M446.5 103v2M447.5 105v3M448.5 108v2M449.5 110v2M450.5 112v2M451.5 114v2M452.5 116v4M453.5 120v3M454.5 123v4M455.5 127v3M456.5 130v3M457.5 133v4M458.5 137v3M459.5 140v3M460.5 143v3M461.5 146v2M462.5 148v3M463.5 151v3M464.5 154v3M465.5 157v3M466.5 160v3M467.5 163v2M468.5 165v2M469.5 167v1M470.5 168v2M471.5 170v1M472.5 171v1M473.5 171v1M474.5 172v1M475.5 173v1M476.5 174v1M477.5 174v1M478.5 175v1M479.5 176v1M480.5 174v2M481.5 172v2M482.5 170v2M483.5 169v1M484.5 169v1M485.5 169v1M486.5 168v1M487.5 168v1M488.5 169v2M489.5 171v1M490.5 172v2M491.5 174v2M492.5 176v3M493.5 179v2M494.5 181v3M495.5 184v3M496.5 187v3M497.5 190v3M498.5 193v3M499.5 196v3M500.5 199v2M501.5 201v2M502.5 203v2M503.5 205v1M504.5 205v1M505.5 206v1M506.5 206v1M507.5 207v1M508.5 208v1M509.5 209v1M510.5 210v1M511.5 211v1M512.5 211v1M513.5 212v1M514.5 212v1M515.5 213v1M516.5 214v1M517.5 214v1M518.5 215v1M519.5 216v1M520.5 216v1M521.5 217v1M522.5 217v1M523.5 218v2M524.5 220v2M525.5 222v2M526.5 224v2M527.5 226v4M528.5 230v4M529.5 234v4M530.5 238v4M531.5 242v4M532.5 246v4M533.5 250v5M534.5 255v4M535.5 259v5M536.5 264v5M537.5 269v6M538.5 275v5M539.5 280v5M540.5 285v4M541.5 289v5M542.5 294v4M543.5 298v5M544.5 303v4M545.5 307v4M546.5 311v4M547.5 315v3M548.5 318v4M549.5 322v4M550.5 326v4M551.5 330v2M552.5 331v1M553.5 331v1M554.5 331v1M555.5 331v1M556.5 331v1M557.5 330v1M558.5 330v1M559.5 329v1M560.5 329v1M561.5 329v1M562.5 329v1M563.5 328v2M564.5 326v2M565.5 324v2M566.5 322v2M567.5 319v3M568.5 315v4M569.5 311v4M570.5 307v4M571.5 304v3M572.5 301v3M573.5 299v2M574.5 296v3M575.5 293v3M576.5 290v3M577.5 286v4M578.5 283v3M579.5 281v2M580.5 281v1M581.5 281v1M582.5 282v1M583.5 282v2M584.5 284v3M585.5 287v4M586.5 291v3M587.5 294v4M588.5 298v6M589.5 304v5M590.5 309v6M591.5 315v6M592.5 321v8M593.5 329v7M594.5 336v8M595.5 344v8M596.5 352v8M597.5 360v8M598.5 368v8M599.5 376v7M600.5 383v7M601.5 390v7M602.5 397v7M603.5 404v7M604.5 411v8M605.5 419v8M606.5 427v8M607.5 435v6M608.5 441v5M609.5 446v4M610.5 450v5M611.5 455v3M612.5 458v2M613.5 460v2M614.5 462v2M615.5 464v1M616.5 463v1M617.5 461v2M618.5 460v1M619.5 458v2M620.5 454v4M621.5 450v4M622.5 446v4M623.5 442v4M624.5 438v4M625.5 433v5M626.5 429v4M627.5 425v4M628.5 422v3M629.5 420v2M630.5 417v3M631.5 414v3M632.5 412v2M633.5 410v2M634.5 408v2M635.5 405v3M636.5 399v6M637.5 394v5M638.5 388v6M639.5 383v5M640.5 378v5M641.5 374v4M642.5 369v5M643.5 365v4M644.5 361v4M645.5 358v3M646.5 354v4M647.5 351v3M648.5 349v2M649.5 347v2M650.5 345v2M651.5 344v1M652.5 343v1M653.5 341v2M654.5 340v1M655.5 339v1M656.5 338v1M657.5 336v2M658.5 335v1M659.5 334v1M660.5 334v1M661.5 334v1M662.5 334v1M663.5 334v2M664.5 336v2M665.5 338v2M666.5 340v2M667.5 342v2M668.5 344v2M669.5 346v3M670.5 349v2M671.5 351v2M672.5 353v2M673.5 355v2M674.5 357v2M675.5 359v2M676.5 361v2M677.5 363v2M678.5 365v2M679.5 367v3M680.5 370v2M681.5 372v2M682.5 374v2M683.5 376v2M684.5 378v2M685.5 380v2M686.5 382v2M687.5 384v1M688.5 385v1M689.5 385v1M690.5 386v1M691.5 387v1M692.5 387v1M693.5 388v1M694.5 388v1M695.5 389v1M696.5 389v1M697.5 389v1M698.5 388v1M699.5 388v1M700.5 389v1M701.5 389v1M702.5 390v1M703.5 391v1M704.5 389v2M705.5 388v1M706.5 386v2M707.5 384v2M708.5 380v4M709.5 376v4M710.5 372v4M711.5 369v3M712.5 366v3M713.5 363v3M714.5 360v3M715.5 357v3M716.5 354v3M717.5 352v2M718.5 349v3M719.5 346v3M720.5 343v3M721.5 341v2M722.5 338v3M723.5 335v3M724.5 333v2M725.5 331v2M726.5 329v2M727.5 327v2M728.5 326v1M729.5 324v2M730.5 323v1M731.5 322v2M732.5 324v3M733.5 327v2M734.5 329v3M735.5 332v4M736.5 336v4M737.5 340v4M738.5 344v4M739.5 348v5M740.5 353v6M741.5 359v5M742.5 364v6M743.5 370v5M744.5 375v6M745.5 381v6M746.5 387v6M747.5 393v5M748.5 398v6M749.5 404v5M750.5 409v6M751.5 415v5M752.5 420v6M753.5 426v6M754.5 432v6M755.5 438v5M756.5 443v6M757.5 449v5M758.5 454v6M759.5 460v5M760.5 465v4M761.5 469v4M762.5 473v4M763.5 477v3M764.5 480v3M765.5 483v3M766.5 486v3M767.5 489v2M768.5 488v2M769.5 486v2M770.5 484v2M771.5 483v1M772.5 484v1M773.5 484v1M774.5 485v1M775.5 486v1M776.5 486v1M777.5 485v1M778.5 485v1M779.5 484v1M780.5 482v2M781.5 481v1M782.5 479v2M783.5 477v2M784.5 474v3M785.5 472v2M786.5 469v3M787.5 466v3M788.5 462v4M789.5 459v3M790.5 455v4M791.5 452v3M792.5 450v2M793.5 448v2M794.5 446v2M795.5 445v1M796.5 444v1M797.5 442v2M798.5 441v1M799.5 439v2M800.5 436v3M801.5 432v4M802.5 429v3M803.5 427v2M804.5 428v1M805.5 428v1M806.5 429v1M807.5 430v1M808.5 431v2M809.5 433v2M810.5 435v2M811.5 437v1M812.5 437v1M813.5 437v1M814.5 437v1M815.5 437v1M816.5 437v1M817.5 437v1M818.5 437v1M819.5 437v1M820.5 436v1M821.5 435v1M822.5 434v1M823.5 433v1M824.5 432v1M825.5 430v2M826.5 429v1M827.5 427v2M828.5 424v3M829.5 422v2M830.5 419v3M831.5 415v4M832.5 411v4M833.5 407v4M834.5 403v4M835.5 398v5M836.5 392v6M837.5 387v5M838.5 381v6M839.5 377v4M840.5 375v2M841.5 373v2M842.5 371v2M843.5 369v2M844.5 369v1M845.5 369v1M846.5 369v1M847.5 369v1M848.5 367v2M849.5 366v1M850.5 364v2M851.5 363v1M852.5 363v1M853.5 362v1M854.5 362v1M855.5 361v1M856.5 362v1M857.5 362v1M858.5 363v1M859.5 364v1M860.5 363v1M861.5 363v1M862.5 362v1M863.5 361v1M864.5 360v1M865.5 360v1M866.5 359v1M867.5 358v1M868.5 356v2M869.5 354v2M870.5 352v2M871.5 350v2M872.5 347v3M873.5 344v3M874.5 341v3M875.5 339v2M876.5 337v2M877.5 336v1M878.5 334v2M879.5 333v1M880.5 333v1M881.5 333v1M882.5 333v1M883.5 333v1M884.5 332v1M885.5 331v1M886.5 330v1M887.5 329v1M888.5 329v1M889.5 328v1M890.5 328v1M891.5 327v1M892.5 326v1M893.5 324v2M894.5 323v1M895.5 322v1M896.5 322v1M897.5 322v1M898.5 322v1M899.5 322v1M900.5 322v1M901.5 322v1M902.5 321v1M903.5 321v1M904.5 321v1M905.5 321v1M906.5 321v1M907.5 321v1M908.5 320v1M909.5 319v1M910.5 318v1M911.5 317v2M912.5 319v2M913.5 321v2M914.5 323v2M915.5 325v2M916.5 326v1M917.5 326v1M918.5 327v1M919.5 327v1M920.5 328v1M921.5 329v1M922.5 330v1M923.5 331v1M924.5 332v1M925.5 332v1M926.5 333v1M927.5 334v1M928.5 334v1M929.5 335v1M930.5 335v1M931.5 335v2M932.5 333v2M933.5 331v2M934.5 329v2M935.5 327v2M936.5 325v2M937.5 324v1M938.5 322v2M939.5 320v2M940.5 317v3M941.5 314v3M942.5 311v3M943.5 309v2M944.5 307v2M945.5 306v1M946.5 304v2M947.5 303v1M948.5 302v1M949.5 302v1M950.5 301v1M951.5 300v1M952.5 299v1M953.5 298v1M954.5 297v1M955.5 296v1M956.5 295v1M957.5 294v1M958.5 293v1M959.5 292v1M960.5 293v2M961.5 295v1M962.5 296v2M963.5 298v1M964.5 298v1M965.5 298v1M966.5 298v1M967.5 298v1M968.5 298v1M969.5 298v1M970.5 298v1M971.5 298v1M972.5 298v1M973.5 298v1M974.5 299v1M975.5 299v1M976.5 298v1M977.5 298v1M978.5 297v1M979.5 296v1M980.5 295v1M981.5 293v2M982.5 292v1M983.5 291v1M984.5 289v2M985.5 288v1M986.5 286v2M987.5 285v1M988.5 285v1M989.5 285v1M990.5 284v1M991.5 284v2M992.5 286v2M993.5 288v2M994.5 290v2M995.5 292v2M996.5 294v3M997.5 297v3M998.5 300v3M999.5 303v3M1000.5 306v4M1001.5 310v4M1002.5 314v4M1003.5 318v3M1004.5 321v4M1005.5 325v3M1006.5 328v4M1007.5 332v3M1008.5 335v3M1009.5 338v3M1010.5 341v3M1011.5 344v3M1012.5 347v2M1013.5 349v3M1014.5 352v2M1015.5 354v2M1016.5 355v1M1017.5 356v1M1018.5 356v1M1019.5 356v2M1020.5 354v2M1021.5 352v2M1022.5 350v2M1023.5 347v3M1024.5 345v2M1025.5 342v3M1026.5 340v2M1027.5 337v3M1028.5 334v3M1029.5 331v3M1030.5 328v3M1031.5 325v3M1032.5 323v2M1033.5 320v3M1034.5 318v2M1035.5 316v2M1036.5 316v1M1037.5 316v1M1038.5 315v1M1039.5 315v1M1040.5 316v1M1041.5 317v1M1042.5 318v1M1043.5 319v2M1044.5 321v2M1045.5 323v2M1046.5 325v2M1047.5 327v2M1048.5 329v2M1049.5 331v3M1050.5 334v2M1051.5 336v3M1052.5 339v2M1053.5 341v2M1054.5 343v2M1055.5 345v2M1056.5 347v1M1057.5 347v1M1058.5 348v1M1059.5 349v1M1060.5 349v1M1061.5 349v1M1062.5 350v1M1063.5 350v1M1064.5 349v1M1065.5 347v2M1066.5 346v1M1067.5 344v2M1068.5 341v3M1069.5 337v4M1070.5 334v3M1071.5 331v3M1072.5 328v3M1073.5 324v4M1074.5 321v3M1075.5 318v3M1076.5 316v2M1077.5 313v3M1078.5 311v2M1079.5 309v2M1080.5 307v2M1081.5 305v2M1082.5 303v2M1083.5 302v1M1084.5 303v1M1085.5 304v1M1086.5 305v1M1087.5 306v1M1088.5 307v1M1089.5 308v1M1090.5 309v1M1091.5 310v1M1092.5 311v2M1093.5 313v1M1094.5 314v2M1095.5 316v2M1096.5 318v3M1097.5 321v2M1098.5 323v3M1099.5 326v3M1100.5 329v2M1101.5 331v3M1102.5 334v2M1103.5 336v2M1104.5 337v1M1105.5 338v1M1106.5 338v1M1107.5 339v1M1108.5 340v1M1109.5 340v1M1110.5 341v1M1111.5 342v1M1112.5 341v1M1113.5 341v1M1114.5 340v1M1115.5 338v2M1116.5 335v3M1117.5 331v4M1118.5 328v3M1119.5 325v3M1120.5 322v3M1121.5 320v2M1122.5 317v3M1123.5 315v2M1124.5 313v2M1125.5 312v1M1126.5 310v2M1127.5 309v1" fill="none" stroke="#0000c8" stroke-width="1" shape-rendering="crispEdges"/>
<g shape-rendering="crispEdges">
<rect x="3" y="43" width="1415" height="3" fill="#ff0000"/>
<rect x="3" y="147" width="1415" height="3" fill="#ff0000"/>
<rect x="3" y="269" width="1415" height="3" fill="#00ff00"/>
<rect x="3" y="424" width="1415" height="3" fill="#0000ff"/>
<rect x="3" y="511" width="1415" height="3" fill="#0000ff"/>
</g>
<g shape-rendering="crispEdges">
<rect x="3" y="610" width="1" height="21" fill="#c0c0c0"/>
<rect x="7" y="610" width="1" height="24" fill="#c0c0c0"/>
<rect x="11" y="610" width="1" height="19" fill="#c0c0c0"/>
<rect x="15" y="610" width="1" height="18" fill="#c0c0c0"/>
<rect x="19" y="610" width="1" height="19" fill="#c0c0c0"/>
<rect x="23" y="610" width="1" height="19" fill="#c0c0c0"/>
<rect x="27" y="610" width="1" height="20" fill="#c0c0c0"/>
<rect x="31" y="610" width="1" height="22" fill="#c0c0c0"/>
<rect x="35" y="610" width="1" height="28" fill="#c0c0c0"/>
<rect x="39" y="610" width="1" height="26" fill="#c0c0c0"/>
<rect x="43" y="610" width="1" height="23" fill="#c0c0c0"/>
<rect x="47" y="610" width="1" height="22" fill="#c0c0c0"/>
<rect x="51" y="610" width="1" height="20" fill="#c0c0c0"/>
<rect x="55" y="610" width="1" height="16" fill="#c0c0c0"/>
<rect x="59" y="610" width="1" height="12" fill="#c0c0c0"/>
<rect x="63" y="610" width="1" height="6" fill="#c0c0c0"/>
<rect x="67" y="610" width="1" height="1" fill="#c0c0c0"/>
<rect x="71" y="606" width="1" height="5" fill="#c0c0c0"/>
<rect x="75" y="602" width="1" height="9" fill="#c0c0c0"/>
<rect x="79" y="598" width="1" height="13" fill="#c0c0c0"/>
<rect x="83" y="597" width="1" height="14" fill="#c0c0c0"/>
<rect x="87" y="596" width="1" height="15" fill="#c0c0c0"/>
<rect x="91" y="597" width="1" height="14" fill="#c0c0c0"/>
<rect x="95" y="598" width="1" height="13" fill="#c0c0c0"/>
<rect x="99" y="599" width="1" height="12" fill="#c0c0c0"/>
<rect x="103" y="599" width="1" height="12" fill="#c0c0c0"/>
<rect x="107" y="598" width="1" height="13" fill="#c0c0c0"/>
<rect x="111" y="599" width="1" height="12" fill="#c0c0c0"/>
<rect x="115" y="599" width="1" height="12" fill="#c0c0c0"/>
<rect x="119" y="599" width="1" height="12" fill="#c0c0c0"/>
<rect x="123" y="597" width="1" height="14" fill="#c0c0c0"/>
<rect x="127" y="595" width="1" height="16" fill="#c0c0c0"/>
<rect x="131" y="592" width="1" height="19" fill="#c0c0c0"/>
<rect x="135" y="589" width="1" height="22" fill="#c0c0c0"/>
<rect x="139" y="589" width="1" height="22" fill="#c0c0c0"/>
<rect x="143" y="590" width="1" height="21" fill="#c0c0c0"/>
<rect x="147" y="588" width="1" height="23" fill="#c0c0c0"/>
<rect x="151" y="585" width="1" height="26" fill="#c0c0c0"/>
<rect x="155" y="582" width="1" height="29" fill="#c0c0c0"/>
<rect x="159" y="582" width="1" height="29" fill="#c0c0c0"/>
<rect x="163" y="582" width="1" height="29" fill="#c0c0c0"/>
<rect x="167" y="583" width="1" height="28" fill="#c0c0c0"/>
<rect x="171" y="585" width="1" height="26" fill="#c0c0c0"/>
<rect x="175" y="587" width="1" height="24" fill="#c0c0c0"/>
<rect x="179" y="590" width="1" height="21" fill="#c0c0c0"/>
<rect x="183" y="593" width="1" height="18" fill="#c0c0c0"/>
<rect x="187" y="595" width="1" height="16" fill="#c0c0c0"/>
<rect x="191" y="597" width="1" height="14" fill="#c0c0c0"/>
<rect x="195" y="599" width="1" height="12" fill="#c0c0c0"/>
<rect x="199" y="601" width="1" height="10" fill="#c0c0c0"/>
<rect x="203" y="602" width="1" height="9" fill="#c0c0c0"/>
<rect x="207" y="605" width="1" height="6" fill="#c0c0c0"/>
<rect x="211" y="606" width="1" height="5" fill="#c0c0c0"/>
<rect x="215" y="607" width="1" height="4" fill="#c0c0c0"/>
<rect x="219" y="608" width="1" height="3" fill="#c0c0c0"/>
<rect x="223" y="606" width="1" height="5" fill="#c0c0c0"/>
<rect x="227" y="603" width="1" height="8" fill="#c0c0c0"/>
<rect x="231" y="599" width="1" height="12" fill="#c0c0c0"/>
<rect x="235" y="597" width="1" height="14" fill="#c0c0c0"/>
<rect x="239" y="595" width="1" height="16" fill="#c0c0c0"/>
<rect x="243" y="593" width="1" height="18" fill="#c0c0c0"/>
<rect x="247" y="592" width="1" height="19" fill="#c0c0c0"/>
<rect x="251" y="595" width="1" height="16" fill="#c0c0c0"/>
<rect x="255" y="597" width="1" height="14" fill="#c0c0c0"/>
<rect x="259" y="600" width="1" height="11" fill="#c0c0c0"/>
<rect x="263" y="602" width="1" height="9" fill="#c0c0c0"/>
<rect x="267" y="604" width="1" height="7" fill="#c0c0c0"/>
<rect x="271" y="608" width="1" height="3" fill="#c0c0c0"/>
<rect x="275" y="610" width="1" height="4" fill="#c0c0c0"/>
<rect x="279" y="610" width="1" height="9" fill="#c0c0c0"/>
<rect x="283" y="610" width="1" height="12" fill="#c0c0c0"/>
<rect x="287" y="610" width="1" height="14" fill="#c0c0c0"/>
<rect x="291" y="610" width="1" height="16" fill="#c0c0c0"/>
<rect x="295" y="610" width="1" height="16" fill="#c0c0c0"/>
<rect x="299" y="610" width="1" height="16" fill="#c0c0c0"/>
<rect x="303" y="610" width="1" height="16" fill="#c0c0c0"/>
<rect x="307" y="610" width="1" height="15" fill="#c0c0c0"/>
<rect x="311" y="610" width="1" height="14" fill="#c0c0c0"/>
<rect x="315" y="610" width="1" height="12" fill="#c0c0c0"/>
<rect x="319" y="610" width="1" height="10" fill="#c0c0c0"/>
<rect x="323" y="610" width="1" height="9" fill="#c0c0c0"/>
<rect x="327" y="610" width="1" height="6" fill="#c0c0c0"/>
<rect x="331" y="610" width="1" height="4" fill="#c0c0c0"/>
<rect x="335" y="610" width="1" height="3" fill="#c0c0c0"/>
<rect x="339" y="610" width="1" height="2" fill="#c0c0c0"/>
<rect x="343" y="610" width="1" height="1" fill="#c0c0c0"/>
<rect x="347" y="609" width="1" height="2" fill="#c0c0c0"/>
<rect x="351" y="607" width="1" height="4" fill="#c0c0c0"/>
<rect x="355" y="606" width="1" height="5" fill="#c0c0c0"/>
<rect x="359" y="605" width="1" height="6" fill="#c0c0c0"/>
<rect x="363" y="603" width="1" height="8" fill="#c0c0c0"/>
<rect x="367" y="600" width="1" height="11" fill="#c0c0c0"/>
<rect x="371" y="596" width="1" height="15" fill="#c0c0c0"/>
<rect x="375" y="590" width="1" height="21" fill="#c0c0c0"/>
<rect x="379" y="586" width="1" height="25" fill="#c0c0c0"/>
<rect x="383" y="582" width="1" height="29" fill="#c0c0c0"/>
<rect x="387" y="577" width="1" height="34" fill="#c0c0c0"/>
<rect x="391" y="574" width="1" height="37" fill="#c0c0c0"/>
<rect x="395" y="571" width="1" height="40" fill="#c0c0c0"/>
<rect x="399" y="570" width="1" height="41" fill="#c0c0c0"/>
<rect x="403" y="570" width="1" height="41" fill="#c0c0c0"/>
<rect x="407" y="570" width="1" height="41" fill="#c0c0c0"/>
<rect x="411" y="571" width="1" height="40" fill="#c0c0c0"/>
<rect x="415" y="573" width="1" height="38" fill="#c0c0c0"/>
<rect x="419" y="574" width="1" height="37" fill="#c0c0c0"/>
<rect x="423" y="576" width="1" height="35" fill="#c0c0c0"/>
<rect x="427" y="579" width="1" height="32" fill="#c0c0c0"/>
<rect x="431" y="581" width="1" height="30" fill="#c0c0c0"/>
<rect x="435" y="582" width="1" height="29" fill="#c0c0c0"/>
<rect x="439" y="582" width="1" height="29" fill="#c0c0c0"/>
<rect x="443" y="585" width="1" height="26" fill="#c0c0c0"/>
<rect x="447" y="590" width="1" height="21" fill="#c0c0c0"/>
<rect x="451" y="595" width="1" height="16" fill="#c0c0c0"/>
<rect x="455" y="603" width="1" height="8" fill="#c0c0c0"/>
<rect x="459" y="606" width="1" height="5" fill="#c0c0c0"/>
<rect x="463" y="610" width="1" height="1" fill="#c0c0c0"/>
<rect x="467" y="610" width="1" height="1" fill="#c0c0c0"/>
<rect x="471" y="610" width="1" height="1" fill="#c0c0c0"/>
<rect x="475" y="610" width="1" height="2" fill="#c0c0c0"/>
<rect x="479" y="610" width="1" height="3" fill="#c0c0c0"/>
<rect x="483" y="610" width="1" height="3" fill="#c0c0c0"/>
<rect x="487" y="610" width="1" height="4" fill="#c0c0c0"/>
<rect x="491" y="610" width="1" height="9" fill="#c0c0c0"/>
<rect x="495" y="610" width="1" height="13" fill="#c0c0c0"/>
<rect x="499" y="610" width="1" height="16" fill="#c0c0c0"/>
<rect x="503" y="610" width="1" height="17" fill="#c0c0c0"/>
<rect x="507" y="610" width="1" height="15" fill="#c0c0c0"/>
<rect x="511" y="610" width="1" height="13" fill="#c0c0c0"/>
<rect x="515" y="610" width="1" height="12" fill="#c0c0c0"/>
<rect x="519" y="610" width="1" height="15" fill="#c0c0c0"/>
<rect x="523" y="610" width="1" height="18" fill="#c0c0c0"/>
<rect x="527" y="610" width="1" height="24" fill="#c0c0c0"/>
<rect x="531" y="610" width="1" height="29" fill="#c0c0c0"/>
<rect x="535" y="610" width="1" height="31" fill="#c0c0c0"/>
<rect x="539" y="610" width="1" height="34" fill="#c0c0c0"/>
<rect x="543" y="610" width="1" height="39" fill="#c0c0c0"/>
<rect x="547" y="610" width="1" height="40" fill="#c0c0c0"/>
<rect x="551" y="610" width="1" height="41" fill="#c0c0c0"/>
<rect x="555" y="610" width="1" height="40" fill="#c0c0c0"/>
<rect x="559" y="610" width="1" height="37" fill="#c0c0c0"/>
<rect x="563" y="610" width="1" height="34" fill="#c0c0c0"/>
<rect x="567" y="610" width="1" height="29" fill="#c0c0c0"/>
<rect x="571" y="610" width="1" height="25" fill="#c0c0c0"/>
<rect x="575" y="610" width="1" height="21" fill="#c0c0c0"/>
<rect x="579" y="610" width="1" height="16" fill="#c0c0c0"/>
<rect x="583" y="610" width="1" height="17" fill="#c0c0c0"/>
<rect x="587" y="610" width="1" height="26" fill="#c0c0c0"/>
<rect x="591" y="610" width="1" height="33" fill="#c0c0c0"/>
<rect x="595" y="610" width="1" height="41" fill="#c0c0c0"/>
<rect x="599" y="610" width="1" height="48" fill="#c0c0c0"/>
<rect x="603" y="610" width="1" height="50" fill="#c0c0c0"/>
<rect x="607" y="610" width="1" height="51" fill="#c0c0c0"/>
<rect x="611" y="610" width="1" height="52" fill="#c0c0c0"/>
<rect x="615" y="610" width="1" height="52" fill="#c0c0c0"/>
<rect x="619" y="610" width="1" height="48" fill="#c0c0c0"/>
<rect x="623" y="610" width="1" height="42" fill="#c0c0c0"/>
<rect x="627" y="610" width="1" height="37" fill="#c0c0c0"/>
<rect x="631" y="610" width="1" height="31" fill="#c0c0c0"/>
<rect x="635" y="610" width="1" height="28" fill="#c0c0c0"/>
<rect x="639" y="610" width="1" height="20" fill="#c0c0c0"/>
<rect x="643" y="610" width="1" height="16" fill="#c0c0c0"/>
<rect x="647" y="610" width="1" height="10" fill="#c0c0c0"/>
<rect x="651" y="610" width="1" height="5" fill="#c0c0c0"/>
<rect x="655" y="610" width="1" height="5" fill="#c0c0c0"/>
<rect x="659" y="610" width="1" height="3" fill="#c0c0c0"/>
<rect x="663" y="610" width="1" height="5" fill="#c0c0c0"/>
<rect x="667" y="610" width="1" height="7" fill="#c0c0c0"/>
<rect x="671" y="610" width="1" height="8" fill="#c0c0c0"/>
<rect x="675" y="610" width="1" height="6" fill="#c0c0c0"/>
<rect x="679" y="610" width="1" height="6" fill="#c0c0c0"/>
<rect x="683" y="610" width="1" height="7" fill="#c0c0c0"/>
<rect x="687" y="610" width="1" height="9" fill="#c0c0c0"/>
<rect x="691" y="610" width="1" height="11" fill="#c0c0c0"/>
<rect x="695" y="610" width="1" height="11" fill="#c0c0c0"/>
<rect x="699" y="610" width="1" height="10" fill="#c0c0c0"/>
<rect x="703" y="610" width="1" height="9" fill="#c0c0c0"/>
<rect x="707" y="610" width="1" height="5" fill="#c0c0c0"/>
<rect x="711" y="610" width="1" height="1" fill="#c0c0c0"/>
<rect x="715" y="607" width="1" height="4" fill="#c0c0c0"/>
<rect x="719" y="606" width="1" height="5" fill="#c0c0c0"/>
<rect x="723" y="605" width="1" height="6" fill="#c0c0c0"/>
<rect x="727" y="603" width="1" height="8" fill="#c0c0c0"/>
<rect x="731" y="603" width="1" height="8" fill="#c0c0c0"/>
<rect x="735" y="610" width="1" height="1" fill="#c0c0c0"/>
<rect x="739" y="610" width="1" height="1" fill="#c0c0c0"/>
<rect x="743" y="610" width="1" height="11" fill="#c0c0c0"/>
<rect x="747" y="610" width="1" height="15" fill="#c0c0c0"/>
<rect x="751" y="610" width="1" height="18" fill="#c0c0c0"/>
<rect x="755" y="610" width="1" height="22" fill="#c0c0c0"/>
<rect x="759" y="610" width="1" height="25" fill="#c0c0c0"/>
<rect x="763" y="610" width="1" height="28" fill="#c0c0c0"/>
<rect x="767" y="610" width="1" height="32" fill="#c0c0c0"/>
<rect x="771" y="610" width="1" height="31" fill="#c0c0c0"/>
<rect x="775" y="610" width="1" height="29" fill="#c0c0c0"/>
<rect x="779" y="610" width="1" height="26" fill="#c0c0c0"/>
<rect x="783" y="610" width="1" height="23" fill="#c0c0c0"/>
<rect x="787" y="610" width="1" height="20" fill="#c0c0c0"/>
<rect x="791" y="610" width="1" height="16" fill="#c0c0c0"/>
<rect x="795" y="610" width="1" height="15" fill="#c0c0c0"/>
<rect x="799" y="610" width="1" height="11" fill="#c0c0c0"/>
<rect x="803" y="610" width="1" height="8" fill="#c0c0c0"/>
<rect x="807" y="610" width="1" height="10" fill="#c0c0c0"/>
<rect x="811" y="610" width="1" height="13" fill="#c0c0c0"/>
<rect x="815" y="610" width="1" height="11" fill="#c0c0c0"/>
<rect x="819" y="610" width="1" height="8" fill="#c0c0c0"/>
<rect x="823" y="610" width="1" height="5" fill="#c0c0c0"/>
<rect x="827" y="610" width="1" height="1" fill="#c0c0c0"/>
<rect x="831" y="607" width="1" height="4" fill="#c0c0c0"/>
<rect x="835" y="602" width="1" height="9" fill="#c0c0c0"/>
<rect x="839" y="598" width="1" height="13" fill="#c0c0c0"/>
<rect x="843" y="597" width="1" height="14" fill="#c0c0c0"/>
<rect x="847" y="600" width="1" height="11" fill="#c0c0c0"/>
<rect x="851" y="600" width="1" height="11" fill="#c0c0c0"/>
<rect x="855" y="599" width="1" height="12" fill="#c0c0c0"/>
<rect x="859" y="597" width="1" height="14" fill="#c0c0c0"/>
<rect x="863" y="594" width="1" height="17" fill="#c0c0c0"/>
<rect x="867" y="592" width="1" height="19" fill="#c0c0c0"/>
<rect x="871" y="590" width="1" height="21" fill="#c0c0c0"/>
<rect x="875" y="590" width="1" height="21" fill="#c0c0c0"/>
<rect x="879" y="590" width="1" height="21" fill="#c0c0c0"/>
<rect x="883" y="593" width="1" height="18" fill="#c0c0c0"/>
<rect x="887" y="593" width="1" height="18" fill="#c0c0c0"/>
<rect x="891" y="591" width="1" height="20" fill="#c0c0c0"/>
<rect x="895" y="588" width="1" height="23" fill="#c0c0c0"/>
<rect x="899" y="589" width="1" height="22" fill="#c0c0c0"/>
<rect x="903" y="590" width="1" height="21" fill="#c0c0c0"/>
<rect x="907" y="592" width="1" height="19" fill="#c0c0c0"/>
<rect x="911" y="594" width="1" height="17" fill="#c0c0c0"/>
<rect x="915" y="598" width="1" height="13" fill="#c0c0c0"/>
<rect x="919" y="599" width="1" height="12" fill="#c0c0c0"/>
<rect x="923" y="598" width="1" height="13" fill="#c0c0c0"/>
<rect x="927" y="599" width="1" height="12" fill="#c0c0c0"/>
<rect x="931" y="600" width="1" height="11" fill="#c0c0c0"/>
<rect x="935" y="597" width="1" height="14" fill="#c0c0c0"/>
<rect x="939" y="596" width="1" height="15" fill="#c0c0c0"/>
<rect x="943" y="595" width="1" height="16" fill="#c0c0c0"/>
<rect x="947" y="593" width="1" height="18" fill="#c0c0c0"/>
<rect x="951" y="594" width="1" height="17" fill="#c0c0c0"/>
<rect x="955" y="595" width="1" height="16" fill="#c0c0c0"/>
<rect x="959" y="596" width="1" height="15" fill="#c0c0c0"/>
<rect x="963" y="599" width="1" height="12" fill="#c0c0c0"/>
<rect x="967" y="599" width="1" height="12" fill="#c0c0c0"/>
<rect x="971" y="598" width="1" height="13" fill="#c0c0c0"/>
<rect x="975" y="596" width="1" height="15" fill="#c0c0c0"/>
<rect x="979" y="596" width="1" height="15" fill="#c0c0c0"/>
<rect x="983" y="596" width="1" height="15" fill="#c0c0c0"/>
<rect x="987" y="595" width="1" height="16" fill="#c0c0c0"/>
<rect x="991" y="596" width="1" height="15" fill="#c0c0c0"/>
<rect x="995" y="603" width="1" height="8" fill="#c0c0c0"/>
<rect x="999" y="610" width="1" height="1" fill="#c0c0c0"/>
<rect x="1003" y="610" width="1" height="3" fill="#c0c0c0"/>
<rect x="1007" y="610" width="1" height="6" fill="#c0c0c0"/>
<rect x="1011" y="610" width="1" height="7" fill="#c0c0c0"/>
<rect x="1015" y="610" width="1" height="6" fill="#c0c0c0"/>
<rect x="1019" y="610" width="1" height="5" fill="#c0c0c0"/>
<rect x="1023" y="610" width="1" height="1" fill="#c0c0c0"/>
<rect x="1027" y="610" width="1" height="1" fill="#c0c0c0"/>
<rect x="1031" y="610" width="1" height="1" fill="#c0c0c0"/>
<rect x="1035" y="609" width="1" height="2" fill="#c0c0c0"/>
<rect x="1039" y="610" width="1" height="1" fill="#c0c0c0"/>
<rect x="1043" y="610" width="1" height="3" fill="#c0c0c0"/>
<rect x="1047" y="610" width="1" height="5" fill="#c0c0c0"/>
<rect x="1051" y="610" width="1" height="9" fill="#c0c0c0"/>
<rect x="1055" y="610" width="1" height="9" fill="#c0c0c0"/>
<rect x="1059" y="610" width="1" height="6" fill="#c0c0c0"/>
<rect x="1063" y="610" width="1" height="4" fill="#c0c0c0"/>
<rect x="1067" y="610" width="1" height="1" fill="#c0c0c0"/>
<rect x="1071" y="608" width="1" height="3" fill="#c0c0c0"/>
<rect x="1075" y="606" width="1" height="5" fill="#c0c0c0"/>
<rect x="1079" y="606" width="1" height="5" fill="#c0c0c0"/>
<rect x="1083" y="606" width="1" height="5" fill="#c0c0c0"/>
<rect x="1087" y="608" width="1" height="3" fill="#c0c0c0"/>
<rect x="1091" y="610" width="1" height="1" fill="#c0c0c0"/>
<rect x="1095" y="610" width="1" height="1" fill="#c0c0c0"/>
<rect x="1099" y="610" width="1" height="2" fill="#c0c0c0"/>
<rect x="1103" y="610" width="1" height="3" fill="#c0c0c0"/>
<rect x="1107" y="610" width="1" height="3" fill="#c0c0c0"/>
<rect x="1111" y="610" width="1" height="3" fill="#c0c0c0"/>
<rect x="1115" y="610" width="1" height="2" fill="#c0c0c0"/>
<rect x="1119" y="609" width="1" height="2" fill="#c0c0c0"/>
<rect x="1123" y="606" width="1" height="5" fill="#c0c0c0"/>
<rect x="1127" y="603" width="1" height="8" fill="#c0c0c0"/>
</g>
<path d="M3.5 624v1M4.5 625v1M5.5 625v1M9.5 628v1M10.5 628v1M11.5 628v1M15.5 629v1M16.5 629v1M17.5 629v1M21.5 629v1M22.5 630v1M23.5 630v1M27.5 631v1M28.5 631v1M29.5 631v1M33.5 632v1M34.5 632v1M35.5 632v1M39.5 632v1M40.5 632v1M41.5 632v1M45.5 632v1M46.5 632v1M47.5 632v1M51.5 632v1M52.5 632v1M53.5 632v1M57.5 631v1M58.5 631v1M59.5 631v1M63.5 629v1M64.5 628v1M65.5 627v1M69.5 624v1M70.5 623v1M71.5 622v1M75.5 619v1M76.5 618v1M77.5 617v1M81.5 613v1M82.5 612v1M83.5 611v1M87.5 607v1M88.5 606v1M89.5 606v1M93.5 603v1M94.5 602v1M95.5 601v1M99.5 599v1M100.5 599v1M101.5 598v1M105.5 597v1M106.5 597v1M107.5 597v1M111.5 597v1M112.5 597v1M113.5 597v1M117.5 597v1M118.5 597v1M119.5 597v1M123.5 597v1M124.5 597v1M125.5 597v1M129.5 596v1M130.5 596v1M131.5 596v1M135.5 595v1M136.5 595v1M137.5 594v1M141.5 593v1M142.5 593v1M143.5 593v1M147.5 591v1M148.5 591v1M149.5 591v1M153.5 589v1M154.5 589v1M155.5 589v1M159.5 587v1M160.5 587v1M161.5 586v1M165.5 585v1M166.5 585v1M167.5 585v1M171.5 584v1M172.5 584v1M173.5 584v1M177.5 584v1M178.5 584v1M179.5 584v1M183.5 584v1M184.5 584v1M185.5 584v1M189.5 585v1M190.5 585v1M191.5 586v1M195.5 588v1M196.5 589v1M197.5 589v1M201.5 592v1M202.5 592v1M203.5 593v1M207.5 595v1M208.5 596v1M209.5 596v1M213.5 598v1M214.5 599v1M215.5 599v1M219.5 601v1M220.5 602v1M221.5 602v1M225.5 603v1M226.5 603v1M227.5 603v1M231.5 603v1M232.5 602v1M233.5 602v1M237.5 602v1M238.5 602v1M239.5 602v1M243.5 600v1M244.5 600v1M245.5 599v1M249.5 598v1M250.5 598v1M251.5 597v1M255.5 596v1M256.5 596v1M257.5 596v1M261.5 596v1M262.5 596v1M263.5 596v1M267.5 596v1M268.5 596v1M269.5 596v1M273.5 598v1M274.5 599v1M275.5 600v1M279.5 603v1M280.5 604v1M281.5 604v1M285.5 607v1M286.5 608v1M287.5 608v1M289.5 612v1M290.5 613v1M291.5 613v1M295.5 616v1M296.5 616v1M297.5 617v1M301.5 620v1M302.5 620v1M303.5 621v1M307.5 623v1M308.5 623v1M309.5 624v1M313.5 625v1M314.5 625v1M315.5 625v1M319.5 624v1M320.5 624v1M321.5 624v1M325.5 623v1M326.5 623v1M327.5 623v1M331.5 621v1M332.5 621v1M333.5 620v1M337.5 619v1M338.5 618v1M339.5 618v1M343.5 616v1M344.5 616v1M345.5 615v1M349.5 613v1M350.5 613v1M351.5 613v1M355.5 612v1M356.5 611v1M357.5 611v1M361.5 609v1M362.5 609v1M363.5 608v1M367.5 606v1M368.5 606v1M369.5 606v1M373.5 603v1M374.5 603v1M375.5 602v1M379.5 599v1M380.5 598v1M381.5 597v1M385.5 594v1M386.5 594v1M387.5 593v1M391.5 589v1M392.5 589v1M393.5 588v1M397.5 584v1M398.5 584v1M399.5 583v1M403.5 580v1M404.5 579v1M405.5 578v1M409.5 576v1M410.5 575v1M411.5 574v1M415.5 572v1M416.5 572v1M417.5 572v1M421.5 571v1M422.5 571v1M423.5 571v1M427.5 572v1M428.5 572v1M429.5 573v1M433.5 573v1M434.5 574v1M435.5 574v1M439.5 575v1M440.5 575v1M441.5 576v1M445.5 577v1M446.5 578v1M447.5 578v1M451.5 581v1M452.5 582v1M453.5 583v1M457.5 586v1M458.5 587v1M459.5 588v1M463.5 591v1M464.5 592v1M465.5 593v1M469.5 596v1M470.5 597v1M471.5 598v1M475.5 602v1M476.5 603v1M477.5 604v1M481.5 606v1M482.5 607v1M483.5 607v1M487.5 609v1M488.5 610v1M489.5 610v1M493.5 612v1M494.5 613v1M495.5 613v1M499.5 615v1M500.5 616v1M501.5 616v1M505.5 618v1M506.5 618v1M507.5 619v1M511.5 620v1M512.5 620v1M513.5 621v1M517.5 622v1M518.5 622v1M519.5 623v1M523.5 624v1M524.5 624v1M525.5 625v1M529.5 626v1M530.5 627v1M531.5 627v1M535.5 628v1M536.5 629v1M537.5 629v1M541.5 631v1M542.5 632v1M543.5 633v1M547.5 636v1M548.5 637v1M549.5 638v1M553.5 641v1M554.5 642v1M555.5 643v1M559.5 645v1M560.5 645v1M561.5 646v1M565.5 646v1M566.5 646v1M567.5 646v1M571.5 645v1M572.5 644v1M573.5 644v1M577.5 643v1M578.5 642v1M579.5 642v1M583.5 639v1M584.5 638v1M585.5 637v1M589.5 637v1M590.5 637v1M591.5 637v1M595.5 638v1M596.5 638v1M597.5 638v1M601.5 639v1M602.5 640v1M603.5 640v1M607.5 643v1M608.5 644v1M609.5 645v1M612.5 649v1M613.5 650v1M614.5 651v1M618.5 654v1M619.5 655v1M620.5 655v1M624.5 656v1M625.5 657v1M626.5 657v1M630.5 656v1M631.5 655v1M632.5 655v1M636.5 652v1M637.5 652v1M638.5 651v1M642.5 647v1M643.5 646v1M644.5 645v1M648.5 640v2M649.5 639v1M653.5 634v2M654.5 633v1M658.5 629v1M659.5 628v1M660.5 627v1M664.5 624v1M665.5 623v1M666.5 622v1M670.5 619v1M671.5 619v1M672.5 618v1M676.5 617v1M677.5 616v1M678.5 616v1M682.5 616v1M683.5 616v1M684.5 616v1M688.5 616v1M689.5 617v1M690.5 617v1M694.5 617v1M695.5 618v1M696.5 618v1M700.5 618v1M701.5 619v1M702.5 619v1M706.5 619v1M707.5 618v1M708.5 618v1M712.5 617v1M713.5 617v1M714.5 617v1M718.5 615v1M719.5 615v1M720.5 614v1M724.5 613v1M725.5 612v1M726.5 612v1M730.5 610v1M731.5 610v1M732.5 609v1M736.5 608v1M737.5 607v1M738.5 607v1M742.5 608v1M743.5 608v1M744.5 608v1M748.5 610v1M749.5 610v1M750.5 611v1M754.5 614v1M755.5 615v1M756.5 616v1M760.5 619v1M761.5 620v1M762.5 621v1M765.5 625v1M766.5 626v1M767.5 627v1M771.5 631v1M772.5 632v1M773.5 632v1M777.5 634v1M778.5 635v1M779.5 635v1M783.5 637v1M784.5 637v1M785.5 637v1M789.5 637v1M790.5 637v1M791.5 637v1M795.5 635v1M796.5 635v1M797.5 634v1M801.5 632v1M802.5 631v1M803.5 631v1M807.5 629v1M808.5 628v1M809.5 628v1M813.5 626v1M814.5 625v1M815.5 625v1M819.5 623v1M820.5 622v1M821.5 622v1M825.5 620v1M826.5 620v1M827.5 619v1M831.5 618v1M832.5 617v1M833.5 617v1M837.5 614v1M838.5 613v1M839.5 613v1M843.5 610v1M844.5 609v1M845.5 608v1M849.5 606v1M850.5 606v1M851.5 605v1M855.5 602v1M856.5 602v1M857.5 601v1M861.5 599v1M862.5 599v1M863.5 598v1M867.5 596v1M868.5 596v1M869.5 595v1M873.5 594v1M874.5 594v1M875.5 594v1M879.5 593v1M880.5 593v1M881.5 593v1M885.5 592v1M886.5 592v1M887.5 592v1M891.5 591v1M892.5 590v1M893.5 590v1M897.5 589v1M898.5 589v1M899.5 589v1M903.5 589v1M904.5 589v1M905.5 589v1M909.5 590v1M910.5 590v1M911.5 590v1M915.5 591v1M916.5 591v1M917.5 591v1M921.5 592v1M922.5 592v1M923.5 592v1M927.5 593v1M928.5 593v1M929.5 593v1M933.5 594v1M934.5 595v1M935.5 595v1M939.5 596v1M940.5 596v1M941.5 596v1M945.5 596v1M946.5 596v1M947.5 596v1M951.5 595v1M952.5 595v1M953.5 595v1M957.5 595v1M958.5 595v1M959.5 595v1M963.5 595v1M964.5 595v1M965.5 595v1M969.5 595v1M970.5 595v1M971.5 595v1M975.5 595v1M976.5 595v1M977.5 595v1M981.5 595v1M982.5 595v1M983.5 595v1M987.5 596v1M988.5 596v1M989.5 596v1M993.5 596v1M994.5 597v1M995.5 597v1M999.5 598v1M1000.5 598v1M1001.5 599v1M1005.5 600v1M1006.5 601v1M1007.5 601v1M1011.5 604v1M1012.5 605v1M1013.5 605v1M1017.5 607v1M1018.5 608v1M1019.5 608v1M1023.5 610v1M1024.5 611v1M1025.5 611v1M1029.5 612v1M1030.5 613v1M1031.5 613v1M1035.5 613v1M1036.5 613v1M1037.5 613v1M1041.5 613v1M1042.5 612v1M1043.5 612v1M1047.5 612v1M1048.5 612v1M1049.5 612v1M1053.5 612v1M1054.5 613v1M1055.5 613v1M1059.5 613v1M1060.5 613v1M1061.5 613v1M1065.5 613v1M1066.5 614v1M1067.5 614v1M1071.5 614v1M1072.5 613v1M1073.5 613v1M1077.5 613v1M1078.5 612v1M1079.5 612v1M1083.5 611v1M1084.5 611v1M1085.5 610v1M1089.5 610v1M1090.5 609v1M1091.5 609v1M1095.5 609v1M1096.5 608v1M1097.5 608v1M1101.5 608v1M1102.5 608v1M1103.5 608v1M1107.5 608v1M1108.5 609v1M1109.5 609v1M1113.5 610v1M1114.5 610v1M1115.5 611v1M1119.5 611v1M1120.5 611v1M1121.5 611v1M1125.5 610v1M1126.5 610v1M1127.5 610v1" fill="none" stroke="#ff0000" stroke-width="1" shape-rendering="crispEdges"/>
<g shape-rendering="crispEdges">
<line x1="4" y1="709.5" x2="1418" y2="709.5" stroke="#c0c0c0" stroke-width="1" stroke-dasharray="3 3"/>
<line x1="4" y1="760.5" x2="1418" y2="760.5" stroke="#c0c0c0" stroke-width="1" stroke-dasharray="3 3"/>
</g>
<path d="M3.5 750v1M4.5 749v1M5.5 749v1M6.5 748v1M7.5 746v2M8.5 743v3M9.5 741v2M10.5 738v3M11.5 736v2M12.5 737v1M13.5 737v1M14.5 738v1M15.5 739v1M16.5 739v1M17.5 739v1M18.5 740v1M19.5 740v1M20.5 740v1M21.5 740v1M22.5 741v1M23.5 741v2M24.5 743v2M25.5 745v2M26.5 747v2M27.5 749v2M28.5 749v1M29.5 749v1M30.5 748v1M31.5 747v2M32.5 749v2M33.5 751v2M34.5 753v2M35.5 753v3M36.5 749v4M37.5 745v4M38.5 741v4M39.5 738v3M40.5 738v1M41.5 738v1M42.5 738v1M43.5 738v1M44.5 738v1M45.5 738v1M46.5 738v1M47.5 738v1M48.5 739v1M49.5 740v1M50.5 741v1M51.5 741v2M52.5 739v2M53.5 737v2M54.5 735v2M55.5 733v2M56.5 732v1M57.5 731v1M58.5 730v1M59.5 729v1M60.5 728v1M61.5 726v2M62.5 725v1M63.5 724v1M64.5 724v1M65.5 724v1M66.5 723v1M67.5 723v1M68.5 723v1M69.5 723v1M70.5 723v1M71.5 723v1M72.5 723v1M73.5 722v1M74.5 722v1M75.5 721v1M76.5 721v1M77.5 721v1M78.5 721v1M79.5 721v1M80.5 722v1M81.5 723v2M82.5 725v1M83.5 726v1M84.5 726v1M85.5 726v1M86.5 725v1M87.5 725v1M88.5 726v1M89.5 727v2M90.5 729v1M91.5 730v1M92.5 730v1M93.5 730v1M94.5 731v1M95.5 731v1M96.5 731v1M97.5 731v1M98.5 732v1M99.5 732v1M100.5 731v1M101.5 729v2M102.5 728v1M103.5 727v1M104.5 727v1M105.5 728v1M106.5 728v1M107.5 729v1M108.5 729v1M109.5 729v1M110.5 729v1M111.5 729v1M112.5 728v1M113.5 728v1M114.5 727v1M115.5 726v1M116.5 726v1M117.5 726v1M118.5 726v1M119.5 726v1M120.5 725v1M121.5 723v2M122.5 722v1M123.5 721v1M124.5 720v1M125.5 720v1M126.5 719v1M127.5 718v1M128.5 717v1M129.5 715v2M130.5 714v1M131.5 713v1M132.5 713v1M133.5 713v1M134.5 713v1M135.5 713v2M136.5 715v2M137.5 717v2M138.5 719v2M139.5 721v1M140.5 721v1M141.5 722v1M142.5 722v1M143.5 722v2M144.5 720v2M145.5 717v3M146.5 715v2M147.5 713v2M148.5 712v1M149.5 712v1M150.5 711v1M151.5 710v1M152.5 709v1M153.5 709v1M154.5 708v1M155.5 707v2M156.5 709v3M157.5 712v2M158.5 714v3M159.5 717v2M160.5 718v1M161.5 718v1M162.5 719v1M163.5 719v1M164.5 719v1M165.5 719v1M166.5 720v1M167.5 720v1M168.5 720v1M169.5 720v1M170.5 720v1M171.5 720v2M172.5 722v2M173.5 724v2M174.5 726v2M175.5 728v2M176.5 730v1M177.5 730v1M178.5 731v1M179.5 732v1M180.5 732v1M181.5 732v1M182.5 731v1M183.5 731v1M184.5 731v1M185.5 732v1M186.5 732v1M187.5 733v1M188.5 733v1M189.5 733v1M190.5 733v1M191.5 733v1M192.5 733v1M193.5 733v1M194.5 733v1M195.5 733v1M196.5 733v1M197.5 733v1M198.5 734v1M199.5 734v1M200.5 733v1M201.5 733v1M202.5 732v1M203.5 731v2M204.5 733v3M205.5 736v2M206.5 738v3M207.5 741v2M208.5 740v2M209.5 738v2M210.5 736v2M211.5 735v1M212.5 735v1M213.5 736v1M214.5 736v1M215.5 737v1M216.5 736v1M217.5 736v1M218.5 735v1M219.5 733v2M220.5 730v3M221.5 726v4M222.5 723v3M223.5 721v2M224.5 721v1M225.5 721v1M226.5 722v1M227.5 721v2M228.5 718v3M229.5 714v4M230.5 711v3M231.5 709v2M232.5 711v3M233.5 714v2M234.5 716v3M235.5 719v2M236.5 720v1M237.5 720v1M238.5 719v1M239.5 719v1M240.5 718v1M241.5 717v1M242.5 716v1M243.5 715v2M244.5 717v2M245.5 719v2M246.5 721v2M247.5 723v3M248.5 726v2M249.5 728v2M250.5 730v2M251.5 732v2M252.5 733v1M253.5 733v1M254.5 733v1M255.5 733v1M256.5 734v1M257.5 734v1M258.5 735v1M259.5 736v1M260.5 736v1M261.5 736v1M262.5 736v1M263.5 736v1M264.5 737v1M265.5 737v1M266.5 738v1M267.5 739v1M268.5 740v2M269.5 742v1M270.5 743v2M271.5 745v2M272.5 747v3M273.5 750v3M274.5 753v3M275.5 756v2M276.5 757v1M277.5 756v1M278.5 756v1M279.5 755v1M280.5 753v2M281.5 751v2M282.5 749v2M283.5 748v1M284.5 748v1M285.5 748v1M286.5 749v1M287.5 749v1M288.5 750v1M289.5 750v1M290.5 751v1M291.5 752v1M292.5 751v1M293.5 749v2M294.5 748v1M295.5 747v1M296.5 747v1M297.5 746v1M298.5 746v1M299.5 745v1M300.5 745v1M301.5 745v1M302.5 744v1M303.5 744v1M304.5 743v1M305.5 743v1M306.5 742v1M307.5 741v1M308.5 741v1M309.5 742v1M310.5 742v1M311.5 742v2M312.5 739v3M313.5 736v3M314.5 733v3M315.5 731v2M316.5 732v1M317.5 732v1M318.5 733v1M319.5 734v1M320.5 735v1M321.5 735v1M322.5 736v1M323.5 737v1M324.5 735v2M325.5 733v2M326.5 731v2M327.5 730v1M328.5 730v1M329.5 730v1M330.5 730v1M331.5 730v1M332.5 730v1M333.5 730v1M334.5 729v1M335.5 729v1M336.5 730v1M337.5 730v1M338.5 731v1M339.5 732v1M340.5 732v1M341.5 732v1M342.5 731v1M343.5 731v1M344.5 729v2M345.5 727v2M346.5 725v2M347.5 724v1M348.5 724v1M349.5 723v1M350.5 723v1M351.5 722v1M352.5 722v1M353.5 722v1M354.5 722v1M355.5 722v1M356.5 722v1M357.5 723v1M358.5 723v1M359.5 724v1M360.5 723v1M361.5 721v2M362.5 720v1M363.5 718v2M364.5 716v2M365.5 714v2M366.5 712v2M367.5 711v1M368.5 709v2M369.5 708v1M370.5 706v2M371.5 705v1M372.5 703v2M373.5 702v1M374.5 700v2M375.5 699v1M376.5 700v1M377.5 700v1M378.5 701v1M379.5 702v1M380.5 702v1M381.5 702v1M382.5 701v1M383.5 701v1M384.5 699v2M385.5 698v1M386.5 696v2M387.5 695v1M388.5 695v1M389.5 695v1M390.5 695v1M391.5 695v1M392.5 695v1M393.5 696v1M394.5 696v1M395.5 697v1M396.5 698v1M397.5 699v1M398.5 700v1M399.5 701v1M400.5 701v1M401.5 701v1M402.5 701v1M403.5 701v1M404.5 701v1M405.5 701v1M406.5 700v1M407.5 700v1M408.5 700v1M409.5 701v1M410.5 701v1M411.5 702v2M412.5 704v2M413.5 706v2M414.5 708v2M415.5 710v2M416.5 710v1M417.5 709v1M418.5 708v1M419.5 707v1M420.5 708v2M421.5 710v2M422.5 712v2M423.5 714v1M424.5 715v2M425.5 717v1M426.5 718v2M427.5 720v1M428.5 719v1M429.5 719v1M430.5 718v1M431.5 717v1M432.5 715v2M433.5 714v1M434.5 712v2M435.5 711v1M436.5 711v1M437.5 711v1M438.5 711v1M439.5 711v3M440.5 714v5M441.5 719v4M442.5 723v5M443.5 728v4M444.5 732v2M445.5 734v2M446.5 736v2M447.5 738v1M448.5 739v2M449.5 741v1M450.5 742v2M451.5 744v2M452.5 746v2M453.5 748v2M454.5 750v2M455.5 752v2M456.5 750v2M457.5 747v3M458.5 745v2M459.5 743v2M460.5 743v1M461.5 743v1M462.5 744v1M463.5 744v1M464.5 743v1M465.5 741v2M466.5 740v1M467.5 739v1M468.5 739v1M469.5 738v1M470.5 738v1M471.5 737v1M472.5 737v1M473.5 737v1M474.5 738v1M475.5 738v1M476.5 739v1M477.5 740v2M478.5 742v1M479.5 743v1M480.5 741v2M481.5 739v2M482.5 737v2M483.5 736v1M484.5 737v1M485.5 738v2M486.5 740v1M487.5 741v2M488.5 743v3M489.5 746v2M490.5 748v3M491.5 751v2M492.5 753v1M493.5 753v1M494.5 754v1M495.5 755v1M496.5 755v1M497.5 754v1M498.5 754v1M499.5 753v1M500.5 751v2M501.5 749v2M502.5 747v2M503.5 746v1M504.5 744v2M505.5 742v2M506.5 740v2M507.5 739v1M508.5 738v1M509.5 738v1M510.5 737v1M511.5 736v1M512.5 737v1M513.5 737v1M514.5 738v1M515.5 739v2M516.5 741v3M517.5 744v2M518.5 746v3M519.5 749v2M520.5 750v1M521.5 751v1M522.5 751v1M523.5 752v2M524.5 754v2M525.5 756v2M526.5 758v2M527.5 760v1M528.5 760v1M529.5 761v1M530.5 761v1M531.5 762v1M532.5 761v1M533.5 759v2M534.5 758v1M535.5 757v1M536.5 758v1M537.5 758v1M538.5 759v1M539.5 760v1M540.5 761v2M541.5 763v1M542.5 764v2M543.5 765v2M544.5 763v2M545.5 761v2M546.5 759v2M547.5 757v2M548.5 757v1M549.5 757v1M550.5 758v1M551.5 757v2M552.5 755v2M553.5 753v2M554.5 751v2M555.5 750v1M556.5 748v2M557.5 747v1M558.5 745v2M559.5 744v1M560.5 744v1M561.5 745v1M562.5 745v1M563.5 745v2M564.5 742v3M565.5 740v2M566.5 737v3M567.5 735v2M568.5 735v1M569.5 735v1M570.5 735v1M571.5 735v1M572.5 735v1M573.5 735v1M574.5 736v1M575.5 736v1M576.5 735v1M577.5 734v1M578.5 733v1M579.5 732v2M580.5 734v4M581.5 738v3M582.5 741v4M583.5 745v3M584.5 748v3M585.5 751v4M586.5 755v3M587.5 758v2M588.5 760v1M589.5 760v1M590.5 761v1M591.5 762v1M592.5 762v1M593.5 763v1M594.5 763v1M595.5 764v1M596.5 764v1M597.5 765v1M598.5 765v1M599.5 766v1M600.5 764v2M601.5 763v1M602.5 761v2M603.5 760v1M604.5 759v1M605.5 757v2M606.5 756v1M607.5 755v1M608.5 755v1M609.5 755v1M610.5 756v1M611.5 756v1M612.5 756v1M613.5 756v1M614.5 757v1M615.5 756v2M616.5 754v2M617.5 752v2M618.5 750v2M619.5 747v3M620.5 744v3M621.5 741v3M622.5 738v3M623.5 736v2M624.5 736v1M625.5 737v1M626.5 737v1M627.5 738v1M628.5 738v1M629.5 738v1M630.5 738v1M631.5 738v1M632.5 738v1M633.5 738v1M634.5 739v1M635.5 738v2M636.5 735v3M637.5 733v2M638.5 730v3M639.5 728v2M640.5 728v1M641.5 728v1M642.5 729v1M643.5 729v1M644.5 728v1M645.5 727v1M646.5 726v1M647.5 725v1M648.5 725v1M649.5 725v1M650.5 726v1M651.5 726v2M652.5 728v2M653.5 730v3M654.5 733v2M655.5 735v2M656.5 735v1M657.5 734v1M658.5 733v1M659.5 732v2M660.5 734v2M661.5 736v2M662.5 738v2M663.5 740v2M664.5 741v1M665.5 741v1M666.5 741v1M667.5 741v1M668.5 741v1M669.5 741v1M670.5 741v1M671.5 741v1M672.5 739v2M673.5 737v2M674.5 735v2M675.5 734v1M676.5 734v1M677.5 735v1M678.5 735v1M679.5 736v1M680.5 737v2M681.5 739v2M682.5 741v2M683.5 743v1M684.5 743v1M685.5 743v1M686.5 743v1M687.5 743v1M688.5 743v1M689.5 743v1M690.5 742v1M691.5 742v1M692.5 742v1M693.5 742v1M694.5 743v1M695.5 743v1M696.5 741v2M697.5 740v1M698.5 738v2M699.5 737v1M700.5 737v1M701.5 737v1M702.5 738v1M703.5 737v2M704.5 734v3M705.5 731v3M706.5 728v3M707.5 726v2M708.5 725v1M709.5 723v2M710.5 722v1M711.5 721v1M712.5 721v1M713.5 722v1M714.5 722v1M715.5 723v1M716.5 724v1M717.5 725v1M718.5 726v1M719.5 727v1M720.5 728v1M721.5 729v1M722.5 730v1M723.5 730v2M724.5 728v2M725.5 726v2M726.5 724v2M727.5 723v2M728.5 725v2M729.5 727v2M730.5 729v2M731.5 731v2M732.5 733v3M733.5 736v4M734.5 740v3M735.5 743v2M736.5 744v1M737.5 744v1M738.5 744v1M739.5 744v2M740.5 746v4M741.5 750v3M742.5 753v4M743.5 757v2M744.5 755v2M745.5 752v3M746.5 750v2M747.5 748v2M748.5 748v1M749.5 748v1M750.5 749v1M751.5 749v1M752.5 749v1M753.5 749v1M754.5 750v1M755.5 750v1M756.5 750v1M757.5 751v1M758.5 751v1M759.5 752v1M760.5 752v1M761.5 752v1M762.5 753v1M763.5 753v1M764.5 754v1M765.5 754v1M766.5 755v1M767.5 755v2M768.5 751v4M769.5 748v3M770.5 744v4M771.5 742v2M772.5 743v1M773.5 744v1M774.5 745v1M775.5 746v1M776.5 745v1M777.5 743v2M778.5 742v1M779.5 741v1M780.5 740v1M781.5 739v1M782.5 738v1M783.5 737v1M784.5 737v1M785.5 736v1M786.5 736v1M787.5 735v1M788.5 735v1M789.5 734v1M790.5 734v1M791.5 733v1M792.5 734v1M793.5 735v2M794.5 737v1M795.5 738v1M796.5 736v2M797.5 734v2M798.5 732v2M799.5 731v1M800.5 731v1M801.5 730v1M802.5 730v1M803.5 729v2M804.5 731v3M805.5 734v4M806.5 738v3M807.5 741v2M808.5 743v1M809.5 743v1M810.5 744v1M811.5 744v2M812.5 741v3M813.5 739v2M814.5 736v3M815.5 734v2M816.5 734v1M817.5 733v1M818.5 733v1M819.5 732v1M820.5 732v1M821.5 732v1M822.5 732v1M823.5 732v1M824.5 730v2M825.5 728v2M826.5 726v2M827.5 725v1M828.5 724v1M829.5 722v2M830.5 721v1M831.5 720v1M832.5 720v1M833.5 721v1M834.5 721v1M835.5 722v1M836.5 722v1M837.5 722v1M838.5 721v1M839.5 721v1M840.5 722v2M841.5 724v1M842.5 725v2M843.5 727v2M844.5 729v2M845.5 731v3M846.5 734v2M847.5 736v2M848.5 734v2M849.5 732v2M850.5 730v2M851.5 729v1M852.5 729v1M853.5 728v1M854.5 728v1M855.5 727v1M856.5 727v1M857.5 727v1M858.5 727v1M859.5 727v1M860.5 725v2M861.5 724v1M862.5 722v2M863.5 721v1M864.5 721v1M865.5 722v1M866.5 722v1M867.5 723v1M868.5 722v1M869.5 722v1M870.5 721v1M871.5 720v1M872.5 721v2M873.5 723v1M874.5 724v2M875.5 726v1M876.5 726v1M877.5 726v1M878.5 726v1M879.5 726v1M880.5 727v2M881.5 729v2M882.5 731v2M883.5 732v2M884.5 730v2M885.5 728v2M886.5 726v2M887.5 724v2M888.5 724v1M889.5 724v1M890.5 725v1M891.5 725v1M892.5 723v2M893.5 722v1M894.5 720v2M895.5 719v1M896.5 720v2M897.5 722v2M898.5 724v2M899.5 726v1M900.5 726v1M901.5 727v1M902.5 727v1M903.5 728v1M904.5 728v1M905.5 728v1M906.5 729v1M907.5 729v1M908.5 730v1M909.5 731v1M910.5 732v1M911.5 733v1M912.5 734v2M913.5 736v1M914.5 737v2M915.5 738v2M916.5 736v2M917.5 734v2M918.5 732v2M919.5 730v2M920.5 729v1M921.5 729v1M922.5 728v1M923.5 727v1M924.5 728v1M925.5 729v2M926.5 731v1M927.5 732v1M928.5 732v1M929.5 732v1M930.5 731v1M931.5 730v2M932.5 728v2M933.5 726v2M934.5 724v2M935.5 722v2M936.5 724v2M937.5 726v2M938.5 728v2M939.5 730v1M940.5 729v1M941.5 727v2M942.5 726v1M943.5 725v1M944.5 725v1M945.5 724v1M946.5 724v1M947.5 723v1M948.5 724v1M949.5 725v2M950.5 727v1M951.5 728v1M952.5 728v1M953.5 729v1M954.5 729v1M955.5 730v1M956.5 730v1M957.5 730v1M958.5 729v1M959.5 729v1M960.5 730v1M961.5 731v1M962.5 732v1M963.5 733v1M964.5 733v1M965.5 733v1M966.5 732v1M967.5 732v1M968.5 731v1M969.5 729v2M970.5 728v1M971.5 727v1M972.5 727v1M973.5 726v1M974.5 726v1M975.5 725v1M976.5 725v1M977.5 725v1M978.5 724v1M979.5 724v1M980.5 724v1M981.5 724v1M982.5 725v1M983.5 725v1M984.5 725v1M985.5 724v1M986.5 724v1M987.5 723v2M988.5 725v2M989.5 727v2M990.5 729v2M991.5 731v3M992.5 734v3M993.5 737v3M994.5 740v3M995.5 743v2M996.5 745v1M997.5 746v2M998.5 748v1M999.5 749v1M1000.5 749v1M1001.5 749v1M1002.5 749v1M1003.5 749v1M1004.5 748v1M1005.5 748v1M1006.5 747v1M1007.5 746v1M1008.5 744v2M1009.5 742v2M1010.5 740v2M1011.5 739v1M1012.5 738v1M1013.5 738v1M1014.5 737v1M1015.5 736v1M1016.5 735v1M1017.5 735v1M1018.5 734v1M1019.5 733v1M1020.5 732v1M1021.5 730v2M1022.5 729v1M1023.5 728v1M1024.5 728v1M1025.5 728v1M1026.5 729v1M1027.5 729v1M1028.5 729v1M1029.5 729v1M1030.5 728v1M1031.5 728v1M1032.5 728v1M1033.5 729v1M1034.5 729v1M1035.5 730v2M1036.5 732v2M1037.5 734v3M1038.5 737v2M1039.5 739v2M1040.5 741v2M1041.5 743v1M1042.5 744v2M1043.5 746v1M1044.5 746v1M1045.5 746v1M1046.5 747v1M1047.5 747v1M1048.5 747v1M1049.5 747v1M1050.5 747v1M1051.5 746v2M1052.5 744v2M1053.5 742v2M1054.5 740v2M1055.5 738v2M1056.5 736v2M1057.5 734v2M1058.5 732v2M1059.5 730v2M1060.5 730v1M1061.5 730v1M1062.5 731v1M1063.5 731v1M1064.5 730v1M1065.5 728v2M1066.5 727v1M1067.5 726v1M1068.5 725v1M1069.5 723v2M1070.5 722v1M1071.5 721v1M1072.5 721v1M1073.5 721v1M1074.5 722v1M1075.5 722v2M1076.5 724v2M1077.5 726v3M1078.5 729v2M1079.5 731v2M1080.5 732v1M1081.5 732v1M1082.5 733v1M1083.5 733v1M1084.5 734v2M1085.5 736v2M1086.5 738v2M1087.5 740v1M1088.5 740v1M1089.5 741v1M1090.5 741v1M1091.5 742v1M1092.5 741v1M1093.5 740v1M1094.5 739v1M1095.5 738v1M1096.5 739v1M1097.5 739v1M1098.5 740v1M1099.5 741v1M1100.5 741v1M1101.5 741v1M1102.5 740v1M1103.5 740v1M1104.5 739v1M1105.5 739v1M1106.5 738v1M1107.5 737v1M1108.5 737v1M1109.5 737v1M1110.5 737v1M1111.5 737v1M1112.5 735v2M1113.5 733v2M1114.5 731v2M1115.5 729v2M1116.5 726v3M1117.5 724v2M1118.5 721v3M1119.5 719v2M1120.5 719v1M1121.5 719v1M1122.5 719v1M1123.5 719v1M1124.5 719v1M1125.5 719v1M1126.5 720v1M1127.5 720v1" fill="none" stroke="#1e90ff" stroke-width="1" shape-rendering="crispEdges"/>
<g shape-rendering="crispEdges" fill="#000">
<rect x="2" y="21" width="1417" height="1" fill="#000"/>
<rect x="2" y="21" width="1" height="779" fill="#000"/>
<rect x="1418" y="21" width="1" height="779" fill="#000"/>
<rect x="2" y="561" width="1417" height="1" fill="#000"/>
<rect x="2" y="563" width="1417" height="1" fill="#000"/>
<rect x="2" y="667" width="1417" height="1" fill="#000"/>
<rect x="2" y="669" width="1417" height="1" fill="#000"/>
<rect x="2" y="799" width="1417" height="1" fill="#000"/>
<rect x="0" y="562" width="1419" height="1" fill="#fff"/>
<rect x="0" y="668" width="1419" height="1" fill="#fff"/>
<rect x="3" y="800" width="1" height="3" fill="#000"/>
<rect x="67" y="800" width="1" height="3" fill="#000"/>
<rect x="131" y="800" width="1" height="3" fill="#000"/>
<rect x="195" y="800" width="1" height="3" fill="#000"/>
<rect x="259" y="800" width="1" height="3" fill="#000"/>
<rect x="323" y="800" width="1" height="3" fill="#000"/>
<rect x="387" y="800" width="1" height="3" fill="#000"/>
<rect x="451" y="800" width="1" height="3" fill="#000"/>
<rect x="515" y="800" width="1" height="3" fill="#000"/>
<rect x="579" y="800" width="1" height="3" fill="#000"/>
<rect x="643" y="800" width="1" height="3" fill="#000"/>
<rect x="707" y="800" width="1" height="3" fill="#000"/>
<rect x="771" y="800" width="1" height="3" fill="#000"/>
<rect x="835" y="800" width="1" height="3" fill="#000"/>
<rect x="899" y="800" width="1" height="3" fill="#000"/>
<rect x="963" y="800" width="1" height="3" fill="#000"/>
<rect x="1027" y="800" width="1" height="3" fill="#000"/>
<rect x="1091" y="800" width="1" height="3" fill="#000"/>
</g>
<g shape-rendering="crispEdges">
<rect x="1419" y="30" width="2" height="1" fill="#000"/>
<rect x="1419" y="63" width="2" height="1" fill="#000"/>
<rect x="1419" y="96" width="2" height="1" fill="#000"/>
<rect x="1419" y="129" width="2" height="1" fill="#000"/>
<rect x="1419" y="162" width="2" height="1" fill="#000"/>
<rect x="1419" y="195" width="2" height="1" fill="#000"/>
<rect x="1419" y="228" width="2" height="1" fill="#000"/>
<rect x="1419" y="261" width="2" height="1" fill="#000"/>
<rect x="1419" y="294" width="2" height="1" fill="#000"/>
<rect x="1419" y="327" width="2" height="1" fill="#000"/>
<rect x="1419" y="360" width="2" height="1" fill="#000"/>
<rect x="1419" y="393" width="2" height="1" fill="#000"/>
<rect x="1419" y="459" width="2" height="1" fill="#000"/>
<rect x="1419" y="492" width="2" height="1" fill="#000"/>
<rect x="1419" y="525" width="2" height="1" fill="#000"/>
<rect x="1419" y="558" width="2" height="1" fill="#000"/>
</g>
<text x="1424.2" y="34.1" font-size="10.1" fill="#000" textLength="32.6" lengthAdjust="spacingAndGlyphs" stroke="#000" stroke-width="0.22">1.02570</text>
<text x="1424.2" y="67.1" font-size="10.1" fill="#000" textLength="32.6" lengthAdjust="spacingAndGlyphs" stroke="#000" stroke-width="0.22">1.02190</text>
<text x="1424.2" y="100.1" font-size="10.1" fill="#000" textLength="32.6" lengthAdjust="spacingAndGlyphs" stroke="#000" stroke-width="0.22">1.01810</text>
<text x="1424.2" y="133.1" font-size="10.1" fill="#000" textLength="32.6" lengthAdjust="spacingAndGlyphs" stroke="#000" stroke-width="0.22">1.01430</text>
<text x="1424.2" y="166.1" font-size="10.1" fill="#000" textLength="32.6" lengthAdjust="spacingAndGlyphs" stroke="#000" stroke-width="0.22">1.01050</text>
<text x="1424.2" y="199.1" font-size="10.1" fill="#000" textLength="32.6" lengthAdjust="spacingAndGlyphs" stroke="#000" stroke-width="0.22">1.00660</text>
<text x="1424.2" y="232.1" font-size="10.1" fill="#000" textLength="32.6" lengthAdjust="spacingAndGlyphs" stroke="#000" stroke-width="0.22">1.00280</text>
<text x="1424.2" y="265.1" font-size="10.1" fill="#000" textLength="32.6" lengthAdjust="spacingAndGlyphs" stroke="#000" stroke-width="0.22">0.99900</text>
<text x="1424.2" y="298.1" font-size="10.1" fill="#000" textLength="32.6" lengthAdjust="spacingAndGlyphs" stroke="#000" stroke-width="0.22">0.99520</text>
<text x="1424.2" y="331.1" font-size="10.1" fill="#000" textLength="32.6" lengthAdjust="spacingAndGlyphs" stroke="#000" stroke-width="0.22">0.99140</text>
<text x="1424.2" y="364.1" font-size="10.1" fill="#000" textLength="32.6" lengthAdjust="spacingAndGlyphs" stroke="#000" stroke-width="0.22">0.98760</text>
<text x="1424.2" y="397.1" font-size="10.1" fill="#000" textLength="32.6" lengthAdjust="spacingAndGlyphs" stroke="#000" stroke-width="0.22">0.98380</text>
<text x="1424.2" y="463.1" font-size="10.1" fill="#000" textLength="32.6" lengthAdjust="spacingAndGlyphs" stroke="#000" stroke-width="0.22">0.97610</text>
<text x="1424.2" y="496.1" font-size="10.1" fill="#000" textLength="32.6" lengthAdjust="spacingAndGlyphs" stroke="#000" stroke-width="0.22">0.97230</text>
<text x="1424.2" y="529.1" font-size="10.1" fill="#000" textLength="32.6" lengthAdjust="spacingAndGlyphs" stroke="#000" stroke-width="0.22">0.96850</text>
<text x="1424.2" y="562.1" font-size="10.1" fill="#000" textLength="32.6" lengthAdjust="spacingAndGlyphs" stroke="#000" stroke-width="0.22">0.96470</text>
<rect x="1420" y="271" width="41" height="11" fill="#000" shape-rendering="crispEdges"/>
<text x="1424.2" y="280.1" font-size="10.1" fill="#fff" textLength="32.6" lengthAdjust="spacingAndGlyphs" stroke="#fff" stroke-width="0.22">0.99731</text>
<rect x="1420" y="38" width="41" height="11" fill="#ff0000" shape-rendering="crispEdges"/>
<text x="1424.2" y="47.1" font-size="10.1" fill="#fff" textLength="32.6" lengthAdjust="spacingAndGlyphs" stroke="#fff" stroke-width="0.22">1.02406</text>
<rect x="1412" y="41" width="7" height="7" fill="#ff0000" shape-rendering="crispEdges"/>
<rect x="1415" y="44" width="1" height="1" fill="#fff" shape-rendering="crispEdges"/>
<rect x="2" y="41" width="7" height="7" fill="#ff0000" shape-rendering="crispEdges"/>
<rect x="5" y="44" width="1" height="1" fill="#fff" shape-rendering="crispEdges"/>
<rect x="1420" y="142" width="41" height="11" fill="#ff0000" shape-rendering="crispEdges"/>
<text x="1424.2" y="151.1" font-size="10.1" fill="#fff" textLength="32.6" lengthAdjust="spacingAndGlyphs" stroke="#fff" stroke-width="0.22">1.01206</text>
<rect x="1412" y="145" width="7" height="7" fill="#ff0000" shape-rendering="crispEdges"/>
<rect x="1415" y="148" width="1" height="1" fill="#fff" shape-rendering="crispEdges"/>
<rect x="2" y="145" width="7" height="7" fill="#ff0000" shape-rendering="crispEdges"/>
<rect x="5" y="148" width="1" height="1" fill="#fff" shape-rendering="crispEdges"/>
<rect x="1420" y="264" width="41" height="11" fill="#00ff00" shape-rendering="crispEdges"/>
<text x="1424.2" y="273.1" font-size="10.1" fill="#fff" textLength="32.6" lengthAdjust="spacingAndGlyphs" stroke="#fff" stroke-width="0.22">0.99798</text>
<rect x="1412" y="267" width="7" height="7" fill="#00ff00" shape-rendering="crispEdges"/>
<rect x="1415" y="270" width="1" height="1" fill="#fff" shape-rendering="crispEdges"/>
<rect x="2" y="267" width="7" height="7" fill="#00ff00" shape-rendering="crispEdges"/>
<rect x="5" y="270" width="1" height="1" fill="#fff" shape-rendering="crispEdges"/>
<rect x="1420" y="419" width="41" height="11" fill="#0000ff" shape-rendering="crispEdges"/>
<text x="1424.2" y="428.1" font-size="10.1" fill="#fff" textLength="32.6" lengthAdjust="spacingAndGlyphs" stroke="#fff" stroke-width="0.22">0.98009</text>
<rect x="1420" y="506" width="41" height="11" fill="#0000ff" shape-rendering="crispEdges"/>
<text x="1424.2" y="515.1" font-size="10.1" fill="#fff" textLength="32.6" lengthAdjust="spacingAndGlyphs" stroke="#fff" stroke-width="0.22">0.97006</text>
<g shape-rendering="crispEdges">
<rect x="1419" y="610" width="2" height="1" fill="#000"/>
<rect x="1419" y="565" width="1" height="1" fill="#000"/>
<rect x="1419" y="666" width="1" height="1" fill="#000"/>
<rect x="1419" y="671" width="1" height="1" fill="#000"/>
<rect x="1419" y="798" width="1" height="1" fill="#000"/>
</g>
<text x="1422.4" y="573.6" font-size="10.1" fill="#000" textLength="32.6" lengthAdjust="spacingAndGlyphs" stroke="#000" stroke-width="0.22">0.00613</text>
<text x="1422.6" y="614.1" font-size="10.1" fill="#000" textLength="18" lengthAdjust="spacingAndGlyphs" stroke="#000" stroke-width="0.22">0.00</text>
<text x="1421.9" y="664.1" font-size="10.1" fill="#000" textLength="41.4" lengthAdjust="spacingAndGlyphs" stroke="#000" stroke-width="0.22">-0.007612</text>
<text x="1422.6" y="680.1" font-size="10.1" fill="#000" textLength="14.3" lengthAdjust="spacingAndGlyphs" stroke="#000" stroke-width="0.22">100</text>
<text x="1421.3" y="713.1" font-size="10.1" fill="#000" textLength="9.7" lengthAdjust="spacingAndGlyphs" stroke="#000" stroke-width="0.22">70</text>
<text x="1421.3" y="764.1" font-size="10.1" fill="#000" textLength="9.7" lengthAdjust="spacingAndGlyphs" stroke="#000" stroke-width="0.22">30</text>
<text x="1422.3" y="796.1" font-size="10.1" fill="#000" textLength="4.8" lengthAdjust="spacingAndGlyphs" stroke="#000" stroke-width="0.22">0</text>
<polygon points="1128.6,22 1138.4,22 1133.5,27.2" fill="#b4b4b4"/>
<polygon points="6,32.3 13.2,32.3 9.6,28.3" fill="#000"/>
<text x="18" y="33.1" font-size="10.1" fill="#000" textLength="67.3" lengthAdjust="spacingAndGlyphs" stroke="#000" stroke-width="0.22">USDCHF-,Daily</text>
<text x="92.3" y="33.1" font-size="10.1" fill="#000" textLength="31.8" lengthAdjust="spacingAndGlyphs" stroke="#000" stroke-width="0.22">0.99752</text>
<text x="128.3" y="33.1" font-size="10.1" fill="#000" textLength="31.8" lengthAdjust="spacingAndGlyphs" stroke="#000" stroke-width="0.22">0.99754</text>
<text x="164.3" y="33.1" font-size="10.1" fill="#000" textLength="31.8" lengthAdjust="spacingAndGlyphs" stroke="#000" stroke-width="0.22">0.99716</text>
<text x="200.3" y="33.1" font-size="10.1" fill="#000" textLength="31.8" lengthAdjust="spacingAndGlyphs" stroke="#000" stroke-width="0.22">0.99731</text>
<text x="6.9" y="576.1" font-size="10.1" fill="#000" textLength="66" lengthAdjust="spacingAndGlyphs" stroke="#000" stroke-width="0.22">MACD(12,26,9)</text>
<text x="76.4" y="576.1" font-size="10.1" fill="#000" textLength="37.6" lengthAdjust="spacingAndGlyphs" stroke="#000" stroke-width="0.22">0.001039</text>
<text x="117.1" y="576.1" font-size="10.1" fill="#000" textLength="37.6" lengthAdjust="spacingAndGlyphs" stroke="#000" stroke-width="0.22">0.000027</text>
<text x="7.4" y="682.1" font-size="10.1" fill="#000" textLength="31.6" lengthAdjust="spacingAndGlyphs" stroke="#000" stroke-width="0.22">RSI(14)</text>
<text x="42.4" y="682.1" font-size="10.1" fill="#000" textLength="32.2" lengthAdjust="spacingAndGlyphs" stroke="#000" stroke-width="0.22">61.3433</text>
<text x="2.2" y="812.1" font-size="10.1" fill="#000" textLength="51.35" lengthAdjust="spacingAndGlyphs" stroke="#000" stroke-width="0.22">31 Dec 2018</text>
<text x="66.45" y="812.1" font-size="10.1" fill="#000" textLength="49.1" lengthAdjust="spacingAndGlyphs" stroke="#000" stroke-width="0.22">18 Jan 2019</text>
<text x="130.7" y="812.1" font-size="10.1" fill="#000" textLength="46.1" lengthAdjust="spacingAndGlyphs" stroke="#000" stroke-width="0.22">6 Feb 2019</text>
<text x="194.7" y="812.1" font-size="10.1" fill="#000" textLength="50.85" lengthAdjust="spacingAndGlyphs" stroke="#000" stroke-width="0.22">25 Feb 2019</text>
<text x="258.95" y="812.1" font-size="10.1" fill="#000" textLength="50.85" lengthAdjust="spacingAndGlyphs" stroke="#000" stroke-width="0.22">15 Mar 2019</text>
<text x="322.7" y="812.1" font-size="10.1" fill="#000" textLength="45.1" lengthAdjust="spacingAndGlyphs" stroke="#000" stroke-width="0.22">3 Apr 2019</text>
<text x="386.45" y="812.1" font-size="10.1" fill="#000" textLength="50.35" lengthAdjust="spacingAndGlyphs" stroke="#000" stroke-width="0.22">23 Apr 2019</text>
<text x="450.7" y="812.1" font-size="10.1" fill="#000" textLength="54.1" lengthAdjust="spacingAndGlyphs" stroke="#000" stroke-width="0.22">12 May 2019</text>
<text x="514.7" y="812.1" font-size="10.1" fill="#000" textLength="54.35" lengthAdjust="spacingAndGlyphs" stroke="#000" stroke-width="0.22">30 May 2019</text>
<text x="578.95" y="812.1" font-size="10.1" fill="#000" textLength="48.85" lengthAdjust="spacingAndGlyphs" stroke="#000" stroke-width="0.22">18 Jun 2019</text>
<text x="642.7" y="812.1" font-size="10.1" fill="#000" textLength="41.35" lengthAdjust="spacingAndGlyphs" stroke="#000" stroke-width="0.22">7 Jul 2019</text>
<text x="706.45" y="812.1" font-size="10.1" fill="#000" textLength="46.35" lengthAdjust="spacingAndGlyphs" stroke="#000" stroke-width="0.22">25 Jul 2019</text>
<text x="770.7" y="812.1" font-size="10.1" fill="#000" textLength="52.1" lengthAdjust="spacingAndGlyphs" stroke="#000" stroke-width="0.22">13 Aug 2019</text>
<text x="834.7" y="812.1" font-size="10.1" fill="#000" textLength="45.85" lengthAdjust="spacingAndGlyphs" stroke="#000" stroke-width="0.22">1 Sep 2019</text>
<text x="898.95" y="812.1" font-size="10.1" fill="#000" textLength="50.85" lengthAdjust="spacingAndGlyphs" stroke="#000" stroke-width="0.22">19 Sep 2019</text>
<text x="962.7" y="812.1" font-size="10.1" fill="#000" textLength="45.1" lengthAdjust="spacingAndGlyphs" stroke="#000" stroke-width="0.22">8 Oct 2019</text>
<text x="1026.95" y="812.1" font-size="10.1" fill="#000" textLength="49.85" lengthAdjust="spacingAndGlyphs" stroke="#000" stroke-width="0.22">27 Oct 2019</text>
<text x="1090.7" y="812.1" font-size="10.1" fill="#000" textLength="52.85" lengthAdjust="spacingAndGlyphs" stroke="#000" stroke-width="0.22">14 Nov 2019</text>
<g>
<rect x="4" y="39" width="223" height="67.5" fill="#ffffff"/>
<rect x="6" y="41" width="52" height="24.5" fill="url(#gbtn)"/>
<rect x="173.5" y="41" width="51.3" height="24.5" fill="url(#gbtn)"/>
<rect x="6" y="65" width="109" height="39.7" fill="url(#gprice)"/>
<rect x="117" y="65" width="107.8" height="39.7" fill="url(#gprice)"/>
<rect x="6" y="41" width="52" height="1" fill="#2020b8"/>
<rect x="173.5" y="41" width="51.3" height="1" fill="#2020b8"/>
<rect x="10" y="64" width="44" height="1" fill="#1c1cb0"/>
<rect x="177.5" y="64" width="44" height="1" fill="#1c1cb0"/>
<rect x="10" y="65" width="44" height="0.8" fill="#9a9af0"/>
<rect x="177.5" y="65" width="44" height="0.8" fill="#9a9af0"/>
<rect x="60" y="41.5" width="111" height="21" fill="#ffffff" stroke="#b0b0b0" stroke-width="1"/>
<rect x="61.5" y="43" width="19.5" height="18.5" fill="url(#gspin)" stroke="#b8b8b8" stroke-width="0.8"/>
<rect x="150" y="43" width="19.5" height="18.5" fill="url(#gspin)" stroke="#b8b8b8" stroke-width="0.8"/>
<polygon points="68,50 74,50 71,53.5" fill="#5060b0"/>
<polygon points="156.5,53 162.5,53 159.5,49.5" fill="#5060b0"/>
<text x="146" y="56" font-size="12.5" fill="#000" text-anchor="end" textLength="25" lengthAdjust="spacingAndGlyphs">1.00</text>
<text x="18.3" y="56.8" font-size="12.3" fill="#fff" textLength="26" lengthAdjust="spacingAndGlyphs">SELL</text>
<text x="186" y="56.8" font-size="12.3" fill="#fff" textLength="24" lengthAdjust="spacingAndGlyphs">BUY</text>
<text x="26" y="95.6" font-size="12.4" fill="#fff" textLength="24" lengthAdjust="spacingAndGlyphs" font-weight="bold">0.99</text>
<text x="136" y="95.6" font-size="12.4" fill="#fff" textLength="24" lengthAdjust="spacingAndGlyphs" font-weight="bold">0.99</text>
<text x="53.4" y="96.2" font-size="36" fill="#fff" textLength="35.2" lengthAdjust="spacingAndGlyphs" stroke="url(#gprice_u)" stroke-width="0.5">73</text>
<text x="163.9" y="96.2" font-size="36" fill="#fff" textLength="35.2" lengthAdjust="spacingAndGlyphs" stroke="url(#gprice_u)" stroke-width="0.5">75</text>
<text x="93.3" y="79.8" font-size="12.3" fill="#fff" font-weight="bold">1</text>
<text x="203.6" y="79.8" font-size="12.3" fill="#fff" font-weight="bold">6</text>
</g>
<g shape-rendering="crispEdges">
<rect x="0" y="823" width="1461" height="19" fill="#f0f0f0"/>
<rect x="0" y="842" width="1461" height="2" fill="#fafafa"/>
<rect x="0" y="820" width="1461" height="1" fill="#e8e8e8"/>
<rect x="0" y="822" width="1461" height="1" fill="#000"/>
<rect x="221" y="821" width="106" height="19" fill="#ffffff"/>
<rect x="220" y="822" width="1" height="19" fill="#000"/>
<rect x="327" y="822" width="1" height="19" fill="#000"/>
<rect x="220" y="840" width="108" height="1" fill="#000"/>
</g>
<text x="15.5" y="836.9" font-size="12.6" fill="#707070" textLength="84.5" lengthAdjust="spacingAndGlyphs">EURUSD-,Daily</text>
<text x="122" y="836.9" font-size="12.6" fill="#707070" textLength="87" lengthAdjust="spacingAndGlyphs">AUDUSD-,Daily</text>
<text x="232" y="836.9" font-size="12.6" fill="#000" textLength="84.5" lengthAdjust="spacingAndGlyphs">USDCHF-,Daily</text>
<text x="339.5" y="836.9" font-size="12.6" fill="#707070" textLength="85.5" lengthAdjust="spacingAndGlyphs">USDCAD-,Daily</text>
<text x="448" y="836.9" font-size="12.6" fill="#707070" textLength="88" lengthAdjust="spacingAndGlyphs">USDCNH-,Daily</text>
<text x="559" y="836.9" font-size="12.6" fill="#707070" textLength="97" lengthAdjust="spacingAndGlyphs">EURCHF-,Weekly</text>
<text x="680" y="836.9" font-size="12.6" fill="#707070" textLength="100" lengthAdjust="spacingAndGlyphs">XAUUSD-,Weekly</text>
<text x="803" y="836.9" font-size="12.6" fill="#707070" textLength="72.5" lengthAdjust="spacingAndGlyphs">GBPUSD-,H1</text>
<text x="899" y="836.9" font-size="12.6" fill="#707070" textLength="57" lengthAdjust="spacingAndGlyphs">UKOil-,H1</text>
<text x="979" y="836.9" font-size="12.6" fill="#707070" textLength="69" lengthAdjust="spacingAndGlyphs">USDX-,Daily</text>
<text x="1070" y="836.9" font-size="12.6" fill="#707070" textLength="70.5" lengthAdjust="spacingAndGlyphs">EURCHF-,H1</text>
<text x="1164" y="836.9" font-size="12.6" fill="#707070" textLength="68" lengthAdjust="spacingAndGlyphs">USOil-,Daily</text>
<g shape-rendering="crispEdges">
<rect x="112" y="825" width="1" height="14" fill="#505050"/>
<rect x="436" y="825" width="1" height="14" fill="#505050"/>
<rect x="548" y="825" width="1" height="14" fill="#505050"/>
<rect x="668" y="825" width="1" height="14" fill="#505050"/>
<rect x="792" y="825" width="1" height="14" fill="#505050"/>
<rect x="888" y="825" width="1" height="14" fill="#505050"/>
<rect x="968" y="825" width="1" height="14" fill="#505050"/>
<rect x="1060" y="825" width="1" height="14" fill="#505050"/>
<rect x="1152" y="825" width="1" height="14" fill="#505050"/>
<rect x="1244" y="825" width="1" height="14" fill="#505050"/>
</g>
<polygon points="1437.2,827.8 1437.2,834.2 1433.6,831" fill="#909090"/>
<polygon points="1452.8,827.8 1452.8,834.2 1456.4,831" fill="#909090"/>
</svg>
</body>
</html>
